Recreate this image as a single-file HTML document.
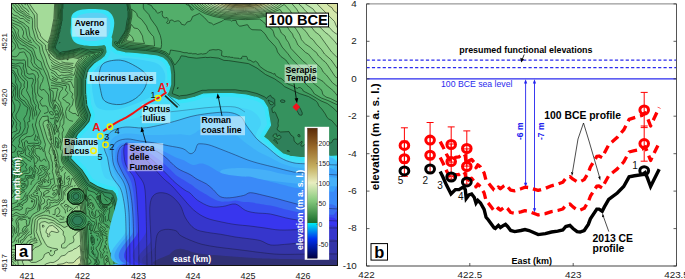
<!DOCTYPE html>
<html><head><meta charset="utf-8"><style>
html,body{margin:0;padding:0;background:#fff;}
body{width:685px;height:279px;overflow:hidden;}
svg{display:block;font-family:"Liberation Sans", sans-serif;}
</style></head><body>
<svg xmlns="http://www.w3.org/2000/svg" width="685" height="279" viewBox="0 0 685 279">
<clipPath id="mc"><rect x="11" y="3" width="327" height="263"/></clipPath>
<g clip-path="url(#mc)">
<rect x="11" y="3" width="327" height="263" fill="#4b9f62"/>
<rect x="11" y="3" width="327" height="263" fill="#2f805a"/>
<path d="M119.5,266.0 11.0,266.0 11.0,3.0 63.5,3.0 63.0,3.5 62.8,8.5 62.3,9.5 62.1,21.0 61.1,26.0 60.6,26.5 60.6,29.0 58.8,34.5 58.8,36.5 55.4,46.5 55.5,48.4 60.0,52.7 63.0,51.6 67.0,51.3 80.5,48.1 89.5,50.1 99.0,49.1 102.9,49.5 103.0,51.5 102.0,53.8 99.5,56.2 92.7,60.5 86.0,67.8 85.0,70.5 82.9,79.0 82.9,94.5 84.0,106.0 87.4,114.5 87.4,116.5 86.2,120.5 75.0,132.8 71.4,140.0 70.9,141.5 70.9,147.0 67.9,158.5 69.0,160.8 79.7,171.5 86.0,181.7 88.3,184.5 97.5,189.6 105.0,192.5 110.5,193.3 112.7,195.0 117.4,210.0 117.4,225.0 119.9,257.5 119.9,266.0 119.5,266.0Z M313.0,147.0 310.8,146.5 309.0,143.6 306.0,143.0 303.2,146.0 301.5,146.2 300.7,145.0 302.1,142.5 302.0,141.2 298.0,144.3 297.0,144.0 294.2,141.0 293.7,137.0 291.0,135.1 289.0,131.6 280.5,132.0 277.5,130.1 277.2,128.5 278.3,126.0 278.0,123.5 278.5,119.9 275.4,112.5 274.5,111.9 273.0,112.9 272.5,112.4 271.9,109.0 272.0,108.0 274.9,105.5 274.7,99.5 274.0,98.4 271.8,97.5 270.5,95.2 267.5,97.0 266.5,98.5 264.5,96.8 257.0,93.5 246.5,90.9 235.5,89.8 208.0,89.9 202.0,90.3 193.2,93.5 186.5,95.2 179.5,96.2 172.5,93.7 172.3,93.0 174.6,85.0 174.6,73.5 173.5,66.0 171.0,60.8 168.3,57.5 164.5,54.4 158.0,52.0 145.5,50.4 125.0,48.9 118.5,47.2 115.3,44.5 114.6,42.0 115.5,41.6 118.0,42.6 118.5,42.2 125.7,29.5 128.1,17.0 128.1,11.5 127.6,10.5 127.6,7.5 126.6,3.0 338.0,3.0 338.0,139.7 336.0,139.0 334.0,139.2 332.9,140.0 331.7,142.5 330.5,142.9 326.0,141.8 320.5,143.1 318.0,142.0 317.4,144.5 313.0,147.0Z M177.6,89.0 178.0,87.3 177.6,89.0Z M272.5,104.6 271.0,104.9 270.0,104.1 268.0,100.0 273.2,102.5 273.8,103.5 272.5,104.6Z M283.5,102.5 285.0,101.8 284.8,100.5 282.0,99.7 280.5,100.5 281.0,102.1 283.5,102.5Z M302.0,115.0 302.3,113.0 300.3,108.5 298.5,106.0 297.5,105.7 296.8,106.5 296.8,110.5 299.4,115.0 302.0,115.0Z M279.5,139.2 277.5,139.1 274.0,137.5 273.1,136.5 273.2,135.0 274.5,134.1 276.5,133.8 277.0,136.7 279.0,135.2 280.0,135.4 280.9,137.5 279.5,139.2Z M300.1,136.5 299.5,134.6 298.2,134.5 297.8,135.5 298.2,136.5 300.1,136.5Z M277.0,143.5 273.6,140.0 275.5,139.9 277.2,142.5 277.4,143.5 277.0,143.5Z M289.0,151.5 287.1,151.0 287.2,150.5 288.6,150.5 289.5,151.5 289.0,151.5Z M308.0,153.5 306.9,153.5 307.5,152.9 308.0,153.5Z M77.7,199.0 79.1,197.0 78.5,194.6 76.5,193.5 74.0,194.2 72.9,196.0 73.5,198.4 75.5,199.5 77.7,199.0Z M77.5,225.0 81.0,223.7 82.2,222.0 82.5,220.5 82.2,219.0 81.0,217.3 77.5,216.0 74.0,217.3 72.8,219.0 72.5,220.5 72.8,222.0 74.0,223.7 77.5,225.0Z" fill="#35925e" fill-rule="evenodd"/>
<path d="M118.5,266.0 11.0,266.0 11.0,3.0 62.1,3.0 61.9,8.0 61.4,9.5 61.2,20.5 57.9,36.0 54.5,46.0 54.8,49.0 59.0,53.3 60.0,53.6 78.5,49.5 80.5,49.4 90.0,51.5 101.5,50.5 101.0,52.8 99.0,54.8 92.0,59.3 88.5,62.8 84.9,67.0 83.7,70.0 81.6,79.0 81.6,95.0 82.6,106.0 86.1,115.0 86.1,116.0 85.0,119.7 74.0,131.9 70.0,139.8 69.5,146.5 66.6,158.5 67.8,161.5 78.5,172.3 87.0,185.2 97.0,190.9 102.7,193.0 104.5,196.2 109.5,198.5 111.0,200.7 111.6,200.5 112.0,197.2 114.9,207.0 114.4,208.0 115.0,211.0 114.3,216.5 116.0,220.0 116.1,225.5 118.0,247.5 118.5,266.0Z M338.0,127.7 331.7,120.5 328.8,119.0 327.1,117.5 321.8,109.0 318.9,106.0 317.5,102.6 315.4,100.5 308.5,96.5 299.5,93.6 284.5,86.6 281.5,83.7 274.5,78.8 265.5,74.5 257.0,68.1 248.5,63.6 228.5,60.6 224.0,60.4 218.5,58.1 205.5,57.3 196.5,58.2 188.0,57.2 186.0,56.4 181.5,55.8 179.7,59.0 175.0,64.9 171.0,58.4 169.0,56.3 165.0,53.1 159.0,50.9 145.5,49.1 129.0,48.0 119.0,45.8 116.7,44.0 116.5,43.2 118.0,43.5 119.0,43.0 126.5,30.0 129.1,16.5 129.1,11.5 127.6,3.0 338.0,3.0 338.0,127.7Z M77.3,201.0 79.3,200.0 80.5,198.5 80.9,197.0 80.7,195.0 79.8,193.5 78.0,192.2 74.5,192.1 72.7,193.0 71.5,194.5 71.1,196.0 71.3,198.0 73.5,200.5 75.5,201.1 77.3,201.0Z M79.1,226.5 81.5,225.5 83.5,223.5 84.3,221.0 83.9,218.5 82.7,216.5 80.5,215.0 78.0,214.3 75.0,214.8 72.8,216.0 71.3,218.0 70.7,220.0 71.1,222.5 72.3,224.5 74.0,225.8 76.5,226.6 79.1,226.5Z" fill="#3f9c60" fill-rule="evenodd"/>
<path d="M117.0,266.0 11.0,266.0 11.0,172.7 13.0,171.8 13.8,170.5 13.0,168.5 11.0,167.2 11.0,130.5 13.7,123.0 13.2,121.5 11.0,119.2 11.0,110.8 11.6,109.0 11.0,107.4 11.0,3.0 61.1,3.0 60.4,20.0 57.1,36.0 53.6,46.0 54.0,49.5 58.5,54.0 60.0,54.5 78.5,50.4 89.5,52.8 99.8,52.0 98.0,53.9 91.5,58.0 87.5,61.9 83.7,66.5 82.5,69.5 80.2,79.0 80.2,95.0 81.4,106.5 84.8,115.5 83.8,119.0 73.0,131.0 68.9,139.0 68.2,141.5 68.2,146.5 65.2,158.5 65.7,160.5 66.9,162.5 77.4,173.0 85.0,185.0 87.2,187.0 88.0,190.4 94.0,192.3 95.6,193.5 96.5,195.0 98.0,192.7 101.0,193.8 100.4,195.5 101.1,201.5 101.5,202.5 104.0,204.5 108.0,204.6 110.7,202.5 111.8,201.0 113.0,205.5 109.0,208.5 109.6,211.5 108.6,215.0 108.6,219.0 109.2,220.5 111.4,222.5 115.1,229.0 116.7,247.5 117.0,266.0Z M338.0,112.9 333.5,108.2 327.3,103.5 321.0,100.9 311.0,94.9 303.2,91.0 302.5,89.3 300.5,87.7 298.5,87.5 297.5,88.5 292.0,85.4 286.5,83.1 281.0,78.3 279.5,78.0 275.5,75.5 275.0,73.6 273.0,74.1 272.0,73.1 267.5,71.5 264.0,69.5 259.5,66.1 258.0,63.1 256.0,61.4 255.5,61.1 254.0,62.1 253.0,62.1 250.0,60.1 247.6,59.5 246.5,56.4 242.5,56.3 241.7,57.0 241.8,58.5 239.5,58.8 239.0,58.3 233.5,57.9 233.0,57.4 230.5,57.3 230.0,56.9 224.5,56.7 221.5,55.5 221.9,51.5 221.5,50.6 218.5,49.5 210.0,50.2 209.0,50.5 206.3,53.5 197.5,54.4 196.0,53.7 192.5,53.8 187.0,52.7 184.0,52.7 180.0,51.5 170.5,50.0 169.5,54.5 169.0,54.6 165.5,51.9 158.5,49.4 145.5,47.7 129.0,46.7 120.0,44.8 119.2,44.0 125.5,34.0 127.4,30.0 130.0,16.0 130.0,11.5 128.7,3.0 338.0,3.0 338.0,112.9Z M78.1,202.5 80.5,201.2 82.0,199.4 82.7,197.0 82.4,194.5 81.0,192.3 79.0,190.8 76.5,190.2 73.5,190.6 71.3,192.0 69.8,194.0 69.3,196.0 69.6,198.5 71.0,200.7 73.0,202.2 75.5,202.8 78.1,202.5Z M80.0,228.0 83.1,226.5 85.2,224.0 86.1,221.0 85.7,218.0 84.0,215.3 81.0,213.3 77.5,212.7 74.0,213.3 71.3,215.0 69.5,217.5 68.9,220.0 69.3,223.0 70.8,225.5 73.5,227.4 76.5,228.3 80.0,228.0Z M93.3,245.0 94.3,243.5 94.3,239.0 93.0,236.4 91.5,235.1 90.7,238.0 91.0,241.0 92.5,245.3 93.3,245.0Z M93.9,254.5 92.5,250.2 91.6,252.0 93.2,254.5 93.9,254.5Z" fill="#48a665" fill-rule="evenodd"/>
<path d="M114.0,266.0 98.4,266.0 99.4,262.0 97.7,258.5 98.3,253.0 96.0,248.5 98.2,245.5 101.2,239.5 99.1,236.5 98.6,233.5 94.5,232.6 92.7,231.0 93.5,226.0 95.0,224.1 95.0,222.8 94.0,221.7 91.7,221.0 88.0,216.2 87.5,215.8 87.0,216.5 85.5,214.5 83.0,212.5 80.5,211.5 77.5,211.5 73.0,212.0 69.0,215.0 67.5,218.0 67.5,223.0 69.0,226.0 70.5,227.5 74.5,229.5 80.5,229.5 82.0,229.0 84.5,227.5 87.0,224.5 87.4,225.0 88.7,253.5 89.0,254.8 93.9,259.0 95.1,261.0 95.2,262.5 93.4,266.0 11.0,266.0 11.0,186.3 12.5,184.8 15.5,184.6 17.5,183.0 16.7,178.5 18.5,173.9 21.5,173.6 23.5,171.1 26.5,171.0 27.1,170.5 27.0,169.5 25.4,167.0 27.0,164.5 25.0,163.0 23.0,160.4 19.5,160.0 17.1,152.0 18.0,150.9 22.0,151.7 23.0,150.5 22.9,149.5 21.5,147.9 18.5,147.0 18.5,145.6 19.7,143.5 19.1,140.5 20.0,138.0 21.2,136.5 24.0,134.3 26.5,133.6 27.0,133.0 28.4,126.5 27.6,122.5 28.0,121.9 30.0,121.1 29.2,119.0 30.4,115.0 30.3,111.0 29.3,107.0 26.4,104.0 25.0,101.4 20.8,99.0 19.6,97.0 19.3,90.5 21.1,86.5 21.0,83.5 18.6,80.5 17.9,78.0 14.0,71.1 13.0,70.4 11.0,70.0 11.0,3.0 60.2,3.0 59.5,19.5 56.2,35.5 52.6,46.0 52.6,48.5 53.2,50.0 57.7,54.5 59.5,55.4 78.0,51.7 89.0,54.1 93.0,53.6 95.4,54.0 90.5,57.1 86.5,61.0 82.7,65.5 81.3,69.0 78.9,79.0 78.9,95.0 80.1,107.0 83.4,115.5 82.5,118.5 71.7,130.5 67.7,138.5 66.9,141.0 66.9,146.0 64.1,156.0 63.9,158.5 65.5,162.9 76.0,173.5 83.7,185.5 86.1,188.0 86.5,197.0 87.0,197.5 89.5,195.2 91.4,195.5 95.0,199.5 99.7,208.0 102.5,210.0 103.6,211.5 103.8,213.0 102.0,216.0 101.7,221.0 104.3,224.0 107.5,225.5 110.1,229.0 110.8,231.5 110.7,234.5 112.6,237.5 111.9,240.0 109.3,243.0 109.0,248.5 111.0,256.1 113.7,260.5 114.2,263.5 114.0,266.0Z M338.0,105.1 321.5,98.1 314.5,94.0 310.9,88.5 307.0,85.3 299.5,76.4 293.5,72.1 289.5,65.0 285.8,60.0 280.9,56.5 277.5,52.0 276.7,49.0 275.3,46.5 268.2,39.0 265.0,33.8 261.0,30.0 252.0,29.7 249.5,28.0 248.0,25.1 247.0,24.7 239.4,26.0 237.1,24.0 236.1,20.5 232.8,20.5 231.5,21.1 230.3,20.0 224.0,19.5 222.5,21.0 213.5,24.8 211.5,23.2 208.8,22.5 204.5,17.7 199.5,13.4 192.6,16.5 191.0,20.5 187.0,22.0 184.5,25.0 181.5,24.3 180.4,22.0 179.0,20.9 174.5,21.6 172.0,19.9 169.8,20.5 169.5,23.0 167.5,23.5 166.7,22.5 168.1,20.5 168.0,18.8 167.0,17.4 165.0,18.1 163.0,16.9 162.2,14.5 162.5,11.5 161.5,11.3 159.0,12.9 157.4,13.0 156.3,12.0 155.6,10.0 153.2,8.5 151.5,5.6 146.5,3.5 144.5,3.3 143.3,4.5 143.3,7.5 144.1,9.5 148.8,14.5 150.9,19.0 156.7,27.0 160.3,35.5 161.4,40.5 161.6,44.5 161.0,48.5 146.0,46.4 129.5,45.4 121.0,43.6 126.5,34.0 128.2,30.0 130.9,16.0 131.0,11.5 129.7,3.0 186.4,3.0 186.2,4.5 188.0,5.1 190.4,7.5 191.0,9.6 192.0,10.2 193.7,9.5 193.6,9.0 187.2,3.0 338.0,3.0 338.0,105.1Z M78.5,204.0 81.5,202.5 83.0,201.0 84.0,199.0 84.0,194.0 83.0,192.0 80.0,189.5 76.0,189.0 72.0,189.5 69.0,192.0 68.0,194.0 68.0,199.0 69.0,201.0 72.0,203.5 73.5,204.0 78.5,204.0Z M107.0,206.1 103.5,205.6 100.5,203.0 99.1,199.0 99.5,195.0 100.4,195.0 100.1,200.5 101.1,202.5 103.0,204.4 104.0,204.9 108.0,204.9 110.9,203.0 111.0,203.7 110.0,204.7 107.0,206.1Z" fill="#53ae6a" fill-rule="evenodd"/>
<path d="M88.5,266.0 11.0,266.0 11.0,195.6 14.5,190.0 16.0,190.3 18.5,193.0 25.0,189.6 26.5,188.0 28.0,185.0 27.7,179.5 28.1,178.5 30.0,177.8 33.0,178.5 34.5,177.5 35.9,170.5 34.1,168.0 34.6,164.0 34.1,158.5 31.5,154.5 32.4,151.5 31.3,149.0 34.0,145.9 39.5,145.4 40.7,143.5 41.0,142.0 39.3,138.5 35.4,125.0 37.0,118.0 40.6,111.0 38.4,108.0 38.6,105.0 35.9,98.5 35.9,95.5 34.8,92.0 34.7,85.0 35.7,81.5 35.1,75.5 33.0,73.6 29.5,74.2 27.0,73.1 26.5,69.5 25.5,67.0 25.5,61.5 24.5,59.8 21.0,60.2 13.0,59.8 11.0,58.6 11.0,47.7 11.9,46.5 11.0,44.2 11.0,3.0 59.2,3.0 58.6,19.5 55.4,35.5 51.8,45.5 51.7,48.5 52.2,50.0 57.0,55.0 59.5,56.3 76.5,52.8 90.3,55.5 85.5,60.1 81.2,65.5 77.7,78.0 77.5,95.0 78.6,106.0 81.9,115.5 81.5,117.5 70.8,129.5 66.4,138.0 65.6,141.0 65.5,146.0 62.5,158.0 63.0,161.0 64.3,163.5 75.1,174.5 82.8,186.5 85.0,189.0 85.1,203.5 86.2,214.5 83.0,212.4 80.5,211.4 74.5,211.4 73.0,211.9 70.5,213.4 67.9,216.5 67.4,218.0 67.4,223.0 68.9,226.0 70.5,227.6 74.5,229.6 80.5,229.6 86.3,226.5 86.7,240.5 87.9,255.0 88.5,258.3 90.2,259.5 91.2,262.0 90.5,263.3 89.0,263.1 88.5,266.0Z M338.0,102.3 330.5,98.5 326.0,97.0 322.8,94.5 322.0,91.0 320.6,89.0 312.5,82.5 307.3,76.5 305.0,72.0 291.5,58.7 288.0,53.8 282.1,47.0 278.5,40.3 274.5,36.0 272.2,29.5 267.1,26.0 263.6,22.0 259.5,19.0 245.5,19.6 238.5,19.4 222.0,18.0 214.0,16.5 205.5,13.8 200.1,11.0 194.8,7.5 190.5,3.0 338.0,3.0 338.0,102.3Z M154.0,46.1 134.5,44.1 129.5,44.0 122.4,42.5 127.2,34.5 129.0,30.5 131.8,17.0 131.5,9.1 136.0,12.5 137.5,16.3 141.7,19.5 146.5,26.0 147.8,29.5 151.0,34.1 153.5,36.5 154.2,40.5 154.5,46.0 154.0,46.1Z M78.6,204.0 81.5,202.6 83.2,201.0 84.4,199.0 84.4,194.0 83.2,192.0 80.0,189.4 75.0,188.9 72.0,189.4 68.9,192.0 67.9,194.0 67.9,199.0 68.9,201.0 72.0,203.6 73.5,204.1 78.6,204.0Z M92.5,209.6 90.4,208.0 88.8,205.5 89.3,203.5 91.0,202.2 93.0,203.6 94.3,207.5 94.1,208.5 92.5,209.6Z M109.5,266.0 104.5,266.0 103.8,259.0 106.5,255.0 108.2,258.0 108.2,260.0 109.8,264.0 109.5,266.0Z" fill="#5fb670" fill-rule="evenodd"/>
<path d="M87.5,266.0 11.0,266.0 11.0,240.1 11.8,239.0 11.0,237.3 11.0,232.4 11.9,230.0 11.0,227.9 11.0,211.3 13.5,210.0 17.0,209.5 19.5,210.3 22.2,209.0 22.6,207.5 19.2,205.5 19.2,204.5 20.5,204.1 22.3,205.0 22.5,205.7 23.3,203.5 26.5,201.8 27.9,199.0 27.3,196.5 27.7,195.0 37.5,182.0 40.3,181.0 40.8,178.0 44.1,176.5 46.5,173.0 47.4,170.5 49.3,168.5 48.8,162.0 47.4,160.0 45.6,155.5 44.1,150.0 45.5,144.5 39.5,125.0 39.4,121.5 41.1,118.0 42.5,116.6 48.0,116.0 48.5,121.4 50.5,122.5 52.0,125.0 54.5,134.3 55.0,134.6 55.3,133.5 54.1,128.5 56.0,122.5 56.0,119.9 56.8,120.0 57.5,122.3 60.6,115.0 57.5,106.5 55.5,104.4 55.0,108.8 52.6,101.0 53.4,96.5 53.1,91.5 50.0,89.4 46.8,76.5 42.1,66.0 41.0,61.9 37.0,59.2 35.2,55.0 34.4,51.5 32.5,48.0 29.0,46.5 17.6,38.5 14.7,30.0 11.0,25.7 11.0,3.0 58.3,3.0 57.6,19.5 54.5,35.5 50.9,45.5 50.8,48.5 51.4,50.5 56.8,56.0 59.5,57.2 76.0,54.0 87.2,56.5 79.9,65.0 76.2,78.5 76.2,95.0 77.2,106.0 80.5,115.5 80.4,116.5 75.5,122.7 69.9,128.5 65.2,137.5 64.3,140.5 63.7,148.0 61.2,158.0 61.8,161.5 63.4,164.5 74.2,175.5 81.5,187.0 83.6,189.5 83.5,192.5 83.5,192.0 80.0,189.2 78.5,188.8 73.5,188.8 70.5,190.3 68.8,192.0 67.8,194.0 67.8,199.0 68.8,201.0 72.0,203.7 73.5,204.2 78.5,204.2 81.5,202.8 83.8,200.5 83.8,204.0 85.2,213.5 80.5,211.3 74.5,211.3 72.0,212.3 69.3,214.5 67.8,216.5 67.3,218.0 67.3,223.0 68.8,226.0 70.5,227.7 74.5,229.7 80.5,229.7 85.2,227.5 85.9,244.0 87.8,260.5 87.5,266.0Z M338.0,96.5 333.6,91.0 325.7,84.5 323.1,81.5 316.2,77.5 312.3,72.5 310.7,69.0 306.7,64.0 303.0,61.2 291.0,48.5 288.5,42.5 286.0,39.0 285.0,36.0 281.3,33.0 279.7,29.0 276.5,25.2 272.0,21.9 267.3,16.5 266.0,16.3 255.5,18.0 245.0,18.5 232.0,17.8 220.0,16.5 213.2,15.0 205.0,12.1 197.1,7.0 193.6,3.0 338.0,3.0 338.0,96.5Z M144.5,43.5 130.0,42.7 124.2,41.5 129.7,31.5 131.0,24.8 131.5,24.6 134.0,28.0 137.5,28.6 139.5,30.5 142.5,36.0 143.1,40.0 144.5,43.5Z M57.8,147.5 58.6,145.5 58.8,140.5 58.0,139.1 55.5,137.1 55.5,145.0 56.7,147.5 57.8,147.5Z M32.7,202.0 32.8,201.0 31.5,200.5 31.4,202.0 32.7,202.0Z" fill="#6cbe77" fill-rule="evenodd"/>
<path d="M79.0,116.1 77.1,115.5 75.5,113.4 73.0,113.6 68.8,111.0 70.1,107.5 72.4,105.0 73.4,99.5 71.8,97.0 72.9,94.0 69.9,90.5 68.7,84.0 65.5,83.9 59.0,82.3 56.0,82.2 50.0,79.4 47.9,72.0 45.0,65.9 40.2,52.5 39.3,46.5 34.5,42.1 32.0,38.1 30.0,36.5 28.5,27.0 23.8,23.0 19.0,20.8 16.5,18.4 13.5,17.8 11.0,16.5 11.0,3.0 57.4,3.0 56.8,19.0 53.7,35.0 49.9,45.5 49.9,48.5 50.4,50.5 56.0,56.4 59.0,58.0 61.0,58.0 75.0,55.2 84.3,57.5 80.0,62.5 78.4,65.0 74.9,78.5 74.8,94.5 75.9,106.5 79.0,116.1Z M338.0,87.0 332.5,82.8 326.5,75.1 323.2,72.0 321.1,68.0 314.0,61.0 308.5,54.1 305.5,52.4 297.9,45.0 295.5,39.5 293.5,36.9 292.5,34.0 289.6,30.5 287.1,26.5 282.6,23.5 277.2,19.0 272.4,14.0 256.0,16.8 247.0,17.3 239.0,17.1 222.0,15.7 214.0,13.9 206.1,11.0 201.0,7.7 196.1,3.0 338.0,3.0 338.0,87.0Z M134.0,41.0 130.0,41.4 125.8,40.5 129.5,34.3 132.2,37.0 134.0,41.0Z M86.5,266.0 11.0,266.0 11.0,242.6 14.5,241.2 15.5,238.1 17.6,235.5 18.9,229.0 18.7,224.5 17.8,221.5 18.0,220.0 19.0,219.4 21.5,220.1 24.0,219.3 25.5,219.5 26.5,220.5 26.3,222.5 27.0,226.0 28.5,225.5 29.1,224.5 30.4,218.0 32.8,214.5 39.6,210.5 39.5,205.0 41.4,201.0 40.5,197.5 41.7,194.0 41.4,192.5 39.5,190.5 39.5,188.5 40.5,187.8 50.5,189.1 51.8,186.0 54.7,183.5 53.5,175.4 52.3,171.5 52.8,168.5 52.5,163.0 51.1,159.0 50.7,155.5 49.0,152.5 49.5,149.5 51.0,145.5 47.3,139.0 43.1,125.0 43.2,123.0 44.0,121.5 47.0,120.1 48.0,119.9 48.4,123.0 50.2,125.0 51.6,129.5 53.4,137.5 53.9,145.5 56.6,151.0 57.9,156.0 57.9,160.0 58.9,163.5 59.3,168.5 60.5,169.9 61.5,169.2 63.0,166.5 64.5,167.7 73.0,176.2 82.3,190.0 82.0,190.5 78.5,188.7 73.5,188.7 70.5,190.2 68.7,192.0 67.7,194.0 67.7,199.0 68.7,201.0 72.0,203.8 73.5,204.3 78.5,204.3 82.5,202.5 82.8,208.0 83.9,212.5 80.5,211.2 74.5,211.2 72.0,212.2 68.7,215.0 67.7,216.5 67.2,218.0 67.2,223.0 68.8,226.0 70.5,227.7 74.5,229.7 80.5,229.7 84.0,228.1 84.6,231.5 84.9,243.5 87.0,261.0 86.5,266.0Z M54.6,195.0 55.6,193.5 54.5,192.5 53.1,193.0 52.6,194.5 53.5,195.2 54.6,195.0Z M37.5,193.7 36.3,193.5 38.0,192.9 37.5,193.7Z M23.6,231.5 26.7,227.0 26.5,226.2 24.5,226.5 23.0,228.2 22.0,231.0 22.5,231.6 23.6,231.5Z" fill="#7ac67f" fill-rule="evenodd"/>
<path d="M60.5,75.5 58.5,75.7 55.5,72.0 50.0,69.3 43.0,51.0 41.8,45.0 36.8,41.0 35.4,38.5 32.4,28.0 32.5,20.5 32.0,17.9 27.0,15.4 23.5,12.0 20.4,10.5 18.1,6.5 14.1,3.0 56.5,3.0 55.8,19.0 52.7,35.0 49.0,45.5 49.5,50.6 50.7,52.5 55.4,57.0 59.0,58.8 61.5,58.9 74.0,56.4 82.0,58.0 77.2,64.5 74.0,75.3 69.5,74.7 64.5,75.4 61.5,75.0 60.5,75.5Z M338.0,78.7 335.1,76.5 327.3,64.5 325.0,61.7 322.5,60.0 321.0,58.0 318.5,56.0 316.4,52.5 310.5,47.4 305.5,44.1 302.9,41.5 301.4,39.5 299.8,35.0 296.4,29.5 290.0,21.0 282.7,13.5 280.0,9.4 272.5,12.4 255.5,15.7 243.5,16.2 232.0,15.5 221.5,14.4 210.0,11.1 203.0,7.2 198.8,3.0 338.0,3.0 338.0,78.7Z M52.0,140.2 51.4,140.0 50.6,138.0 49.6,132.5 47.0,126.0 47.2,124.5 48.0,124.1 48.9,126.0 48.8,127.5 49.3,128.0 49.7,131.5 50.8,134.0 52.0,140.2Z M54.0,151.4 54.0,150.0 54.0,151.4Z M56.5,163.8 54.7,161.0 54.1,152.0 54.5,151.3 54.8,153.5 55.5,154.0 55.5,156.0 56.1,156.5 55.9,158.5 56.8,161.5 56.5,163.8Z M59.5,182.6 58.4,177.5 57.3,176.5 55.8,172.5 55.7,170.5 56.7,167.5 57.0,163.9 57.1,166.0 59.4,173.5 58.8,176.5 59.2,177.0 59.2,179.5 59.7,180.0 59.5,182.6Z M85.5,266.0 11.0,266.0 11.0,246.4 14.0,245.6 17.5,245.9 19.8,245.0 21.6,243.5 28.0,235.5 31.5,234.0 31.3,227.0 32.5,220.0 33.1,218.5 35.0,216.3 45.0,211.6 47.1,208.5 50.1,208.0 52.0,206.7 58.5,204.5 60.0,201.5 63.0,199.5 63.3,191.5 65.1,190.0 66.2,188.0 68.9,186.5 70.3,185.0 71.8,179.0 72.5,177.9 79.7,189.0 78.5,188.6 73.5,188.6 70.5,190.1 68.6,192.0 67.6,194.0 67.6,199.0 68.6,201.0 70.5,202.9 73.5,204.4 78.5,204.4 81.1,203.0 81.5,208.0 82.4,211.5 74.5,211.1 70.5,213.1 67.6,216.5 67.1,218.0 67.1,223.0 68.7,226.0 73.0,229.3 74.5,229.8 80.5,229.8 83.0,229.0 84.5,250.5 86.0,261.0 85.9,266.0 85.5,266.0Z M60.0,188.3 59.6,186.0 60.0,184.4 60.0,188.3Z" fill="#88cd87" fill-rule="evenodd"/>
<path d="M74.5,67.7 60.0,65.1 55.5,63.2 50.0,59.2 46.0,49.8 45.5,45.0 38.3,38.5 34.9,27.5 34.3,15.0 30.0,9.0 26.6,3.0 55.6,3.0 54.9,18.5 51.7,35.0 48.2,45.0 48.4,50.0 49.6,52.5 53.0,56.0 55.5,58.2 58.5,59.6 61.5,59.8 73.0,57.5 79.5,58.9 76.7,62.5 74.5,67.7Z M338.0,69.6 331.2,60.0 324.5,54.0 321.5,49.5 316.2,44.0 313.0,39.7 310.0,37.5 306.0,31.5 301.7,27.5 299.4,23.5 290.0,10.5 284.5,4.7 284.0,4.5 273.7,10.5 265.0,13.0 254.5,14.6 241.5,14.9 226.0,13.8 216.5,11.8 207.5,8.3 203.5,5.5 201.1,3.0 338.0,3.0 338.0,69.6Z M71.0,213.0 71.1,212.0 74.0,208.9 76.5,206.8 80.0,204.8 80.9,211.0 74.5,211.0 72.0,212.0 71.0,213.0Z M85.0,266.0 11.0,266.0 11.0,249.4 26.0,249.7 29.1,246.5 30.0,242.5 33.0,240.9 36.9,241.0 34.6,236.5 33.9,231.5 35.1,220.0 37.0,217.6 39.0,216.5 43.5,215.3 46.5,215.4 51.5,216.9 56.0,219.3 60.0,222.6 64.5,222.2 67.0,221.0 67.0,223.0 68.6,226.0 73.0,229.4 74.5,229.9 82.0,229.5 85.0,266.0Z" fill="#96d48f" fill-rule="evenodd"/>
<path d="M48.0,42.7 43.6,39.5 40.6,36.0 37.2,27.0 37.1,14.0 34.4,11.0 29.7,4.0 29.6,3.0 54.7,3.0 53.9,18.5 50.8,34.5 48.0,42.7Z M254.0,13.5 237.5,13.6 221.5,11.7 210.4,8.0 207.0,6.0 203.6,3.0 282.7,3.0 278.0,6.5 271.5,9.7 263.7,12.0 254.0,13.5Z M338.0,58.3 331.5,51.9 319.4,35.0 314.8,31.5 310.6,26.0 304.0,19.5 298.3,12.0 296.6,9.0 291.3,3.0 338.0,3.0 338.0,58.3Z M67.0,60.0 66.9,59.5 68.4,59.5 67.0,60.0Z M84.0,266.0 18.4,266.0 17.8,261.5 18.5,258.3 18.0,257.8 14.5,257.2 13.6,256.0 15.5,254.7 19.0,255.1 24.0,252.8 28.5,252.8 32.5,250.5 35.0,247.6 38.2,246.5 41.5,244.2 36.3,232.0 37.2,222.0 38.0,220.0 39.8,218.5 45.5,218.3 54.5,221.0 57.0,223.5 60.5,225.0 64.0,227.4 68.5,225.5 70.5,228.0 73.0,229.4 74.5,229.9 81.0,229.9 84.0,266.0Z" fill="#a4db99" fill-rule="evenodd"/>
<path d="M251.5,12.5 237.0,12.5 222.0,10.5 212.0,7.0 206.4,3.0 279.5,3.0 275.0,6.3 268.5,9.3 261.5,11.2 251.5,12.5Z M338.0,45.7 328.2,34.5 325.3,32.5 318.5,25.7 314.6,20.5 311.0,17.7 306.9,12.0 304.1,9.5 302.4,7.0 299.8,5.0 298.5,3.0 338.0,3.0 338.0,45.7Z M83.0,266.0 23.0,266.0 23.8,265.0 22.3,261.5 23.0,260.2 26.5,258.0 31.5,262.5 36.5,262.2 42.0,259.3 43.7,257.0 44.4,254.5 47.0,252.9 49.0,252.4 50.0,255.1 51.0,255.7 52.5,255.7 54.5,253.5 54.6,251.0 58.0,249.5 57.0,248.8 52.5,248.2 47.5,246.5 41.6,236.5 40.1,230.5 39.7,224.0 41.5,222.2 45.0,221.5 48.5,223.2 52.0,222.6 53.5,223.0 55.5,225.0 59.0,227.1 63.1,231.0 63.2,234.5 64.8,237.0 65.1,240.0 64.5,242.7 62.5,243.7 61.5,244.9 61.5,247.5 62.5,248.0 65.5,248.0 69.0,244.3 73.5,242.2 74.0,239.8 73.1,236.5 75.6,234.5 77.0,232.3 80.0,230.8 80.6,242.5 83.0,266.0Z M50.5,251.6 50.0,251.0 51.0,250.2 51.5,251.0 50.5,251.6Z" fill="#b4e2a6" fill-rule="evenodd"/>
<path d="M249.5,11.5 236.0,11.3 223.0,9.4 213.6,6.0 209.0,3.0 276.8,3.0 271.2,6.5 265.5,8.8 260.0,10.2 249.5,11.5Z M338.0,34.9 333.5,32.0 327.0,25.0 322.5,19.2 319.6,17.0 318.2,14.5 315.5,12.3 313.1,9.0 304.7,3.0 338.0,3.0 338.0,34.9Z M43.5,227.2 42.5,227.1 42.5,225.0 43.9,225.5 43.5,227.2Z M49.0,236.7 48.0,236.9 47.5,236.5 48.1,234.0 45.9,232.5 46.5,229.5 49.3,226.0 52.5,225.4 57.0,228.9 59.0,231.7 57.0,232.6 52.0,231.3 51.0,231.4 49.4,233.5 49.9,235.5 49.0,236.7Z M82.0,266.0 43.6,266.0 46.0,263.9 50.5,262.4 53.0,262.6 54.5,262.0 58.5,259.5 61.0,256.1 65.0,255.2 68.5,251.8 72.4,250.5 80.0,245.3 82.0,266.0Z" fill="#c6e8b0" fill-rule="evenodd"/>
<path d="M253.5,10.0 241.0,10.4 228.5,9.3 219.8,7.0 211.9,3.0 273.8,3.0 270.0,5.3 263.0,8.2 253.5,10.0Z M338.0,28.7 336.5,26.5 334.5,21.5 316.2,3.0 338.0,3.0 338.0,28.7Z M81.0,266.0 55.7,266.0 58.0,264.4 63.0,263.8 66.5,262.2 68.5,262.9 73.0,262.8 80.0,256.3 81.0,266.0Z" fill="#d4e8ac" fill-rule="evenodd"/>
<path d="M250.5,9.0 240.0,9.3 229.0,8.2 221.5,6.0 215.6,3.0 270.7,3.0 261.0,7.4 250.5,9.0Z M338.0,14.0 333.5,10.5 332.0,7.7 329.1,6.0 326.1,3.0 338.0,3.0 338.0,14.0Z M80.0,266.0 77.0,266.0 80.0,263.7 80.0,266.0Z" fill="#d8e0a0" fill-rule="evenodd"/>
<path d="M249.0,8.0 239.5,8.2 230.0,7.2 224.5,5.6 218.9,3.0 267.5,3.0 260.0,6.3 249.0,8.0Z" fill="#ccc88a" fill-rule="evenodd"/>
<path d="M247.0,7.0 239.5,7.1 231.5,6.3 227.5,5.3 222.7,3.0 263.9,3.0 260.5,4.7 257.0,5.7 247.0,7.0Z" fill="#b8a86c" fill-rule="evenodd"/>
<path d="M250.0,4.5 236.5,4.7 229.0,3.0 257.1,3.0 250.0,4.5Z" fill="#9c8450" fill-rule="evenodd"/>
<g fill="none" stroke="#0c220f" stroke-width="0.65" stroke-opacity="0.9">
<path d="M63.5,3.0 63.0,3.5 62.8,8.5 62.3,9.5 62.1,21.0 61.7,21.5 61.1,26.0 60.6,26.5 60.6,29.0 60.1,29.5 59.9,31.5 58.8,34.5 58.8,36.5 55.4,46.5 55.5,48.4 60.0,52.7 63.0,51.6 67.0,51.3 80.5,48.1 89.5,50.1 92.0,49.6 97.5,49.6 99.0,49.1 102.5,49.1 102.9,49.5 103.0,51.5 102.0,53.8 99.5,56.2 92.7,60.5 86.0,67.8 85.0,70.5 82.9,79.0 82.9,94.5 83.9,101.5 84.0,106.0 87.4,114.5 87.4,116.5 86.2,120.5 81.2,126.5 75.0,132.8 71.4,140.0 70.9,141.5 70.9,147.0 67.9,158.5 69.0,160.8 79.7,171.5 86.0,181.7 88.3,184.5 97.5,189.6 105.0,192.5 110.5,193.3 112.7,195.0 117.4,210.0 117.4,225.0 118.4,233.5 118.4,238.5 118.9,240.0 118.9,245.5 119.4,247.0 119.9,266.0"/>
<path d="M338.0,139.7 336.0,139.0 334.0,139.2 332.9,140.0 331.7,142.5 330.5,142.9 328.5,142.7 326.0,141.8 320.5,143.1 318.0,142.0 317.4,144.5 313.0,147.0 310.8,146.5 309.0,143.6 306.0,143.0 303.2,146.0 301.5,146.2 300.7,145.0 302.1,142.5 302.0,141.2 298.0,144.3 297.0,144.0 294.2,141.0 293.7,137.0 291.0,135.1 289.0,131.6 280.5,132.0 277.4,130.0 277.2,128.5 278.3,126.0 278.0,123.5 278.5,119.9 275.4,112.5 274.5,111.9 273.0,112.9 272.5,112.4 271.9,109.0 272.0,108.0 273.6,107.0 274.9,105.5 274.7,99.5 274.0,98.4 271.8,97.5 270.5,95.2 267.5,97.0 266.5,98.5 264.5,96.8 257.0,93.5 246.5,90.9 242.5,90.9 235.5,89.8 208.0,89.9 206.0,90.3 202.0,90.3 193.2,93.5 186.5,95.2 180.5,95.7 179.5,96.2 172.5,93.7 172.3,93.0 174.6,85.0 174.6,73.5 173.5,66.0 171.0,60.8 168.3,57.5 164.5,54.4 158.0,52.0 145.5,50.4 125.0,48.9 118.5,47.2 115.3,44.5 114.6,42.0 115.5,41.6 118.0,42.6 118.5,42.2 119.7,39.5 124.1,33.0 125.7,29.5 127.1,20.5 128.1,17.0 128.1,11.5 127.6,10.5 127.6,7.5 126.6,3.0"/>
<path d="M177.6,89.0 178.0,87.3 177.4,88.5 177.6,89.0"/>
<path d="M272.5,104.6 271.0,104.9 270.0,104.1 268.0,100.0 273.2,102.5 273.8,103.5 272.5,104.6"/>
<path d="M283.5,102.5 285.0,101.8 284.8,100.5 282.0,99.7 280.5,100.5 280.5,101.5 281.0,102.1 283.5,102.5"/>
<path d="M302.0,115.0 302.3,113.0 300.3,108.5 298.5,106.0 297.5,105.7 296.8,106.5 296.8,110.5 299.4,115.0 301.0,115.3 302.0,115.0"/>
<path d="M279.5,139.2 277.5,139.1 274.0,137.5 273.1,136.5 273.2,135.0 274.5,134.1 276.5,133.8 277.0,136.7 279.0,135.2 280.0,135.4 280.8,136.5 280.9,137.5 279.5,139.2"/>
<path d="M300.1,136.5 299.5,134.6 298.2,134.5 297.8,135.5 298.2,136.5 299.5,136.8 300.1,136.5"/>
<path d="M277.0,143.5 273.6,140.0 274.5,139.6 275.5,139.9 277.2,142.5 277.4,143.5 277.0,143.5"/>
<path d="M289.0,151.5 287.1,151.0 287.2,150.5 288.6,150.5 289.5,151.5 289.0,151.5"/>
<path d="M308.0,153.5 306.9,153.5 307.5,152.9 308.0,153.5"/>
<path d="M77.7,199.0 79.1,197.0 78.5,194.6 76.5,193.5 74.0,194.2 72.9,196.0 73.5,198.4 75.5,199.5 77.7,199.0"/>
<path d="M77.5,225.0 79.5,224.6 81.0,223.7 82.2,222.0 82.5,220.5 82.2,219.0 81.0,217.3 79.5,216.4 77.5,216.0 75.5,216.4 74.0,217.3 72.8,219.0 72.5,220.5 72.8,222.0 74.0,223.7 75.5,224.6 77.5,225.0"/>
<path d="M62.1,3.0 61.9,8.0 61.4,9.5 61.2,20.5 57.9,36.0 54.5,46.0 54.8,49.0 59.0,53.3 60.0,53.6 78.5,49.5 80.5,49.4 90.0,51.5 101.5,50.5 101.6,51.5 101.0,52.8 99.0,54.8 92.0,59.3 88.5,62.8 84.9,67.0 83.7,70.0 81.6,79.0 81.6,95.0 82.6,106.0 86.1,115.0 86.1,116.0 85.0,119.7 79.8,126.0 74.0,131.9 70.0,139.8 69.6,141.5 69.5,146.5 66.6,158.5 67.8,161.5 78.5,172.3 87.0,185.2 97.0,190.9 102.7,193.0 104.5,196.2 109.5,198.5 111.0,200.7 111.6,200.5 112.0,197.2 114.9,207.0 114.4,208.0 115.0,211.0 114.3,216.5 116.0,220.0 116.1,225.5 118.0,247.5 118.5,266.0"/>
<path d="M338.0,127.7 331.7,120.5 328.8,119.0 327.1,117.5 325.3,114.0 321.8,109.0 318.9,106.0 317.5,102.6 315.4,100.5 308.5,96.5 299.5,93.6 284.5,86.6 281.5,83.7 274.5,78.8 265.5,74.5 257.0,68.1 248.5,63.6 228.5,60.6 224.0,60.4 218.5,58.1 210.5,57.3 207.0,57.6 205.5,57.3 196.5,58.2 188.0,57.2 186.0,56.4 181.5,55.8 181.0,56.0 179.7,59.0 175.0,64.9 174.5,64.8 171.0,58.4 169.0,56.3 165.0,53.1 159.0,50.9 145.5,49.1 129.0,48.0 119.0,45.8 116.7,44.0 116.5,43.2 118.0,43.5 119.0,43.0 126.5,30.0 129.1,16.5 129.1,11.5 127.6,3.0"/>
<path d="M77.3,201.0 79.3,200.0 80.5,198.5 80.9,197.0 80.7,195.0 79.8,193.5 78.0,192.2 74.5,192.1 72.7,193.0 71.5,194.5 71.1,196.0 71.3,198.0 72.2,199.5 73.5,200.5 75.5,201.1 77.3,201.0"/>
<path d="M79.1,226.5 81.5,225.5 83.5,223.5 84.3,221.0 83.9,218.5 82.7,216.5 80.5,215.0 78.0,214.3 75.0,214.8 72.8,216.0 71.3,218.0 70.7,220.0 71.1,222.5 72.3,224.5 74.0,225.8 76.5,226.6 79.1,226.5"/>
<path d="M61.1,3.0 61.0,8.0 60.5,9.5 60.4,20.0 57.1,36.0 53.6,46.0 53.5,48.5 54.0,49.5 58.5,54.0 60.0,54.5 78.5,50.4 89.5,52.8 99.8,52.0 98.0,53.9 91.5,58.0 87.5,61.9 83.7,66.5 82.5,69.5 80.2,79.0 80.2,95.0 81.4,106.5 84.8,115.5 83.8,119.0 78.9,125.0 73.0,131.0 68.7,139.5 68.2,141.5 68.2,146.5 65.4,156.5 65.4,159.5 66.9,162.5 77.4,173.0 85.0,185.0 87.2,187.0 88.0,190.4 94.0,192.3 95.6,193.5 96.5,195.0 98.0,192.7 101.0,193.8 100.4,195.5 100.5,199.0 101.5,202.5 103.0,204.0 104.0,204.5 108.0,204.6 110.7,202.5 111.8,201.0 113.0,205.5 111.0,207.4 109.0,208.5 109.6,211.5 108.6,215.0 108.6,219.0 109.2,220.5 111.4,222.5 115.1,229.0 116.7,247.5 117.2,266.0"/>
<path d="M338.0,112.9 333.5,108.2 327.3,103.5 321.0,100.9 311.0,94.9 303.2,91.0 302.5,89.3 300.5,87.7 298.5,87.5 297.5,88.5 295.5,87.7 292.0,85.4 289.0,84.5 286.5,83.1 281.0,78.3 279.5,78.0 275.5,75.5 275.0,73.6 273.0,74.1 272.0,73.1 267.5,71.5 264.0,69.5 259.5,66.1 258.0,63.1 256.0,61.4 255.5,61.1 254.0,62.1 253.0,62.1 250.0,60.1 248.5,60.0 247.6,59.5 247.2,57.5 246.5,56.4 242.5,56.3 241.7,57.0 241.8,58.5 239.5,58.8 239.0,58.3 233.5,57.9 233.0,57.4 230.5,57.3 230.0,56.9 227.5,56.9 227.0,56.5 224.5,56.7 221.5,55.5 221.9,51.5 221.5,50.6 218.5,49.5 216.0,49.9 213.0,49.6 210.0,50.2 209.0,50.5 206.3,53.5 202.5,54.1 201.5,53.7 197.5,54.4 196.0,53.7 192.5,53.8 191.5,53.3 188.5,53.3 187.0,52.7 184.0,52.7 180.0,51.5 170.5,50.0 169.5,54.5 169.0,54.6 165.5,51.9 158.5,49.4 145.5,47.7 129.0,46.7 120.0,44.8 119.2,44.0 125.5,34.0 127.4,30.0 130.0,16.0 130.0,11.5 129.5,10.0 128.7,3.0"/>
<path d="M11.0,110.8 11.6,109.0 11.0,107.4"/>
<path d="M11.0,130.5 13.7,123.0 13.2,121.5 11.0,119.2"/>
<path d="M11.0,172.7 13.0,171.8 13.8,170.5 13.0,168.5 11.0,167.2"/>
<path d="M78.1,202.5 80.5,201.2 82.0,199.4 82.7,197.0 82.4,194.5 81.0,192.3 79.0,190.8 76.5,190.2 73.5,190.6 71.3,192.0 69.8,194.0 69.3,196.0 69.6,198.5 71.0,200.7 73.0,202.2 75.5,202.8 78.1,202.5"/>
<path d="M80.0,228.0 83.1,226.5 85.2,224.0 86.1,221.0 85.7,218.0 84.0,215.3 81.0,213.3 77.5,212.7 74.0,213.3 71.3,215.0 69.5,217.5 68.9,220.0 69.3,223.0 70.8,225.5 73.5,227.4 76.5,228.3 80.0,228.0"/>
<path d="M93.3,245.0 94.3,243.5 94.3,239.0 93.0,236.4 91.5,235.1 90.7,238.0 91.0,241.0 92.5,245.3 93.3,245.0"/>
<path d="M93.9,254.5 92.5,250.2 91.6,252.0 93.2,254.5 93.9,254.5"/>
<path d="M60.2,3.0 59.4,15.0 59.5,19.5 56.2,35.5 52.6,46.0 52.6,48.5 53.2,50.0 57.7,54.5 59.5,55.4 78.0,51.7 89.0,54.1 93.0,53.6 95.4,54.0 90.5,57.1 86.5,61.0 82.7,65.5 81.3,69.0 78.9,79.0 78.9,95.0 80.1,107.0 83.4,115.5 82.5,118.5 71.7,130.5 67.5,138.9 66.9,141.5 66.9,146.0 64.0,156.5 64.0,159.5 64.7,161.5 66.0,163.5 76.4,174.0 83.7,185.5 86.1,188.0 86.5,197.0 87.0,197.5 89.5,195.2 90.5,195.0 91.4,195.5 95.0,199.5 99.7,208.0 102.5,210.0 103.6,211.5 103.8,213.0 102.0,216.0 101.7,221.0 104.3,224.0 107.5,225.5 110.1,229.0 110.8,231.5 110.7,234.5 112.6,237.5 111.9,240.0 109.3,243.0 109.0,248.5 110.5,253.0 111.0,256.1 113.7,260.5 114.2,266.0"/>
<path d="M338.0,105.1 328.0,100.5 321.5,98.1 314.5,94.0 310.9,88.5 307.0,85.3 299.5,76.4 293.5,72.1 291.1,68.5 289.5,65.0 285.8,60.0 280.9,56.5 277.5,52.0 276.7,49.0 275.3,46.5 268.2,39.0 265.0,33.8 261.0,30.0 252.0,29.7 249.5,28.0 248.0,25.1 247.0,24.7 241.0,26.1 239.4,26.0 237.1,24.0 236.1,20.5 232.8,20.5 231.5,21.1 230.3,20.0 224.0,19.5 222.5,21.0 213.5,24.8 211.5,23.2 208.8,22.5 204.5,17.7 199.5,13.4 192.6,16.5 191.0,20.5 190.0,21.2 187.0,22.0 185.4,24.5 184.5,25.0 181.5,24.3 180.4,22.0 179.0,20.9 177.5,20.8 174.5,21.6 172.0,19.9 169.8,20.5 169.5,23.0 167.5,23.5 166.7,23.0 166.7,22.5 168.1,20.5 168.0,18.8 167.0,17.4 165.0,18.1 163.0,16.9 162.2,14.5 162.5,11.5 161.5,11.3 159.0,12.9 157.4,13.0 156.3,12.0 155.6,10.0 153.2,8.5 151.5,5.6 146.5,3.5 144.5,3.3 143.5,3.9 143.3,4.5 143.3,7.5 144.1,9.5 148.8,14.5 150.9,19.0 156.7,27.0 160.3,35.5 161.4,40.5 161.6,44.5 161.0,48.5 146.0,46.4 129.5,45.4 121.0,43.6 126.5,34.0 128.2,30.0 130.9,16.0 131.0,11.5 129.7,3.0"/>
<path d="M186.4,3.0 186.2,4.5 188.0,5.1 189.9,7.0 191.3,10.0 192.5,10.1 193.7,9.5 187.2,3.0"/>
<path d="M11.0,186.3 12.5,184.8 15.5,184.6 17.5,183.0 16.7,178.5 18.5,173.9 21.5,173.6 23.5,171.1 26.5,171.0 27.1,170.5 27.0,169.5 25.4,167.0 27.0,164.5 25.0,163.0 23.0,160.4 19.5,160.0 17.1,152.0 18.0,150.9 20.5,151.8 22.0,151.7 23.0,150.5 22.9,149.5 21.5,147.9 18.5,147.0 18.5,145.6 19.7,143.5 19.1,140.5 20.0,138.0 21.2,136.5 24.0,134.3 26.5,133.6 27.0,133.0 27.3,130.0 28.4,126.5 27.6,122.5 28.0,121.9 29.5,121.6 30.0,121.1 29.2,119.0 30.4,115.0 30.3,111.0 29.3,107.0 26.4,104.0 25.0,101.4 20.8,99.0 19.6,97.0 19.2,94.5 19.3,90.5 21.1,86.5 21.0,83.5 18.6,80.5 17.9,78.0 14.0,71.1 13.0,70.4 11.0,70.0"/>
<path d="M78.5,204.0 81.5,202.5 83.0,201.0 84.0,199.0 84.0,194.0 83.0,192.0 80.0,189.5 78.5,189.0 76.0,189.0 73.5,189.0 72.0,189.5 69.0,192.0 68.0,194.0 68.0,199.0 69.0,201.0 72.0,203.5 73.5,204.0 78.5,204.0"/>
<path d="M107.0,206.1 103.5,205.6 100.5,203.0 99.1,199.0 99.5,195.0 100.4,195.0 100.1,200.5 101.1,202.5 103.0,204.4 104.0,204.9 108.0,204.9 110.5,202.9 110.9,203.0 111.0,203.7 110.0,204.7 107.0,206.1"/>
<path d="M98.4,266.0 99.4,262.0 97.7,258.5 98.3,253.0 96.0,248.5 96.3,247.5 98.2,245.5 101.2,239.5 99.1,236.5 98.6,233.5 94.5,232.6 92.7,231.0 92.5,230.0 93.5,226.0 95.0,224.0 94.9,222.5 94.0,221.7 91.7,221.0 88.0,216.2 87.5,215.8 87.0,216.5 84.5,213.5 82.0,212.0 80.5,211.5 77.5,211.5 74.5,211.5 73.0,212.0 70.5,213.5 68.0,216.5 67.5,218.0 67.5,220.5 67.5,223.0 68.0,223.5 68.0,224.5 70.5,227.5 74.5,229.5 80.5,229.5 81.0,229.0 82.0,229.0 84.5,227.5 87.0,224.5 87.4,225.0 88.5,243.5 88.7,253.5 89.0,254.8 93.9,259.0 95.1,261.0 95.2,262.5 93.4,266.0"/>
<path d="M59.2,3.0 58.5,15.0 58.6,19.5 55.4,35.5 51.8,45.5 51.7,48.5 52.2,50.0 57.0,55.0 59.5,56.3 76.5,52.8 90.3,55.5 85.5,60.1 81.2,65.5 79.9,69.0 77.7,78.0 77.5,95.0 78.6,106.0 81.9,115.5 81.5,117.5 76.6,123.5 70.8,129.5 66.4,138.0 65.6,141.0 65.5,146.0 62.5,158.0 63.0,161.0 64.3,163.5 75.1,174.5 82.8,186.5 85.0,189.0 85.1,203.5 86.2,214.5 83.0,212.4 80.5,211.4 74.5,211.4 74.0,211.9 73.0,211.9 70.5,213.4 67.9,216.5 67.9,217.5 67.4,218.0 67.4,223.0 68.9,226.0 70.5,227.6 74.5,229.6 80.5,229.6 83.0,228.6 86.3,226.5 86.7,240.5 87.9,255.0 88.5,258.3 90.2,259.5 91.2,262.0 90.5,263.3 89.0,263.1 88.8,266.0"/>
<path d="M338.0,102.3 330.5,98.5 326.0,97.0 322.8,94.5 322.0,91.0 320.6,89.0 312.5,82.5 307.3,76.5 305.0,72.0 291.5,58.7 288.0,53.8 282.1,47.0 278.5,40.3 274.5,36.0 273.3,31.5 272.2,29.5 267.1,26.0 263.6,22.0 259.5,19.0 245.5,19.6 238.5,19.4 222.0,18.0 214.0,16.5 205.5,13.8 200.1,11.0 194.8,7.5 190.5,3.0"/>
<path d="M154.0,46.1 134.5,44.1 129.5,44.0 122.4,42.5 127.2,34.5 129.0,30.5 131.8,17.0 131.9,10.5 131.5,9.1 136.0,12.5 136.7,13.5 137.5,16.3 141.7,19.5 146.5,26.0 147.8,29.5 151.0,34.1 153.5,36.5 154.2,40.5 154.5,46.0 154.0,46.1"/>
<path d="M11.0,47.7 11.9,46.5 11.0,44.2"/>
<path d="M11.0,195.6 14.5,190.0 16.0,190.3 17.5,192.4 18.5,193.0 25.0,189.6 26.5,188.0 28.0,185.0 28.1,182.0 27.7,179.5 28.1,178.5 30.0,177.8 33.0,178.5 34.5,177.5 35.0,173.5 35.9,170.5 34.1,168.0 34.6,164.0 34.0,161.0 34.1,158.5 33.5,157.0 31.5,154.5 32.4,151.5 31.3,149.0 34.0,145.9 39.5,145.4 40.7,143.5 41.0,142.0 39.3,138.5 38.7,135.5 35.4,125.0 37.0,118.0 40.6,111.0 38.4,108.0 38.6,105.0 35.9,98.5 35.9,95.5 34.8,92.0 34.7,85.0 35.7,81.5 35.1,75.5 33.0,73.6 29.5,74.2 28.0,73.9 27.0,73.1 26.5,69.5 25.5,67.0 25.5,61.5 24.5,59.8 21.0,60.2 13.0,59.8 11.0,58.6"/>
<path d="M78.6,204.0 81.5,202.6 83.2,201.0 84.4,199.0 84.4,194.0 83.2,192.0 80.0,189.4 79.0,189.4 78.5,188.9 75.0,188.9 72.0,189.4 68.9,192.0 67.9,194.0 67.9,199.0 68.9,201.0 72.0,203.6 73.5,204.1 78.6,204.0"/>
<path d="M92.5,209.6 90.4,208.0 88.8,205.5 89.3,203.5 91.0,202.2 93.0,203.6 94.3,207.5 94.1,208.5 92.5,209.6"/>
<path d="M104.5,266.0 103.8,259.0 104.5,257.5 106.5,255.0 108.0,257.5 108.2,260.0 109.8,264.0 109.8,266.0"/>
<path d="M58.3,3.0 57.6,19.5 54.5,35.5 50.9,45.5 50.8,48.5 51.4,50.5 56.8,56.0 59.5,57.2 76.0,54.0 87.2,56.5 79.9,65.0 78.6,68.5 76.2,78.5 76.2,95.0 77.2,106.0 80.5,115.5 80.4,116.5 75.5,122.7 69.9,128.5 65.2,137.5 64.3,140.5 63.7,148.0 61.5,155.5 61.2,158.0 61.8,161.5 63.4,164.5 74.2,175.5 81.5,187.0 83.6,189.5 83.5,192.5 83.5,192.0 80.0,189.2 79.0,189.3 78.5,188.8 73.5,188.8 70.5,190.3 68.8,192.0 67.8,194.0 67.8,199.0 68.8,201.0 72.0,203.7 73.0,203.7 73.5,204.2 78.5,204.2 81.5,202.8 83.8,200.5 83.8,204.0 85.2,213.5 80.5,211.3 74.5,211.3 72.0,212.3 69.3,214.5 67.8,216.5 67.8,217.5 67.3,218.0 67.3,223.0 68.8,226.0 70.5,227.7 74.5,229.7 80.5,229.7 85.2,227.5 85.9,244.0 87.8,260.5 87.8,266.0"/>
<path d="M338.0,96.5 333.6,91.0 325.7,84.5 323.1,81.5 316.2,77.5 312.3,72.5 310.7,69.0 306.7,64.0 303.0,61.2 291.0,48.5 288.5,42.5 286.0,39.0 285.0,36.0 281.3,33.0 279.7,29.0 276.5,25.2 272.0,21.9 267.3,16.5 266.0,16.3 255.5,18.0 245.0,18.5 232.0,17.8 220.0,16.5 213.2,15.0 205.0,12.1 197.1,7.0 193.6,3.0"/>
<path d="M144.5,43.5 130.0,42.7 124.2,41.5 129.7,31.5 131.0,24.8 131.5,24.6 134.0,28.0 137.5,28.6 139.5,30.5 142.5,36.0 143.1,40.0 144.5,43.5"/>
<path d="M11.0,211.3 13.5,210.0 17.0,209.5 19.5,210.3 22.2,209.0 22.6,207.5 19.2,205.5 19.2,204.5 20.5,204.1 22.3,205.0 22.5,205.7 23.3,203.5 26.5,201.8 27.9,199.0 27.3,196.5 27.7,195.0 34.8,185.0 37.5,182.0 40.3,181.0 40.8,178.0 44.1,176.5 46.5,173.0 47.4,170.5 49.1,169.0 49.3,166.5 48.8,162.0 47.4,160.0 45.6,155.5 44.9,151.5 44.1,150.0 45.5,144.5 39.4,124.5 39.2,122.5 39.8,120.5 41.5,117.5 42.5,116.6 48.0,116.0 48.5,121.4 50.5,122.5 52.0,125.0 53.3,128.5 54.5,134.3 55.0,134.6 55.3,133.5 54.5,131.5 54.1,128.5 56.0,122.5 56.0,119.9 56.8,120.0 57.5,122.3 60.6,115.0 59.5,111.0 57.5,106.5 55.5,104.4 55.0,108.8 54.5,106.0 52.6,101.0 53.4,96.5 53.1,91.5 50.0,89.4 46.8,76.5 42.1,66.0 41.0,61.9 37.0,59.2 35.2,55.0 34.4,51.5 32.5,48.0 29.0,46.5 17.6,38.5 14.7,30.0 11.0,25.7"/>
<path d="M57.8,147.5 58.6,145.5 58.8,140.5 58.0,139.1 55.5,137.1 55.5,145.0 56.7,147.5 57.0,147.8 57.8,147.5"/>
<path d="M32.7,202.0 32.8,201.0 31.5,200.5 31.4,202.0 32.7,202.0"/>
<path d="M11.0,232.4 11.9,230.0 11.0,227.9"/>
<path d="M11.0,240.1 11.8,239.0 11.0,237.3"/>
<path d="M57.4,3.0 56.8,19.0 53.7,35.0 49.9,45.5 49.9,48.5 50.4,50.5 56.0,56.4 59.0,58.0 61.0,58.0 75.0,55.2 83.7,57.0 84.3,57.5 80.0,62.5 78.4,65.0 74.9,78.5 74.8,94.5 75.9,106.5 79.0,116.1 77.1,115.5 75.5,113.4 73.0,113.6 68.8,111.0 70.1,107.5 72.4,105.0 73.4,99.5 71.8,97.0 72.9,94.0 69.9,90.5 69.6,87.0 68.7,84.0 65.5,83.9 59.0,82.3 56.0,82.2 50.0,79.4 47.9,72.0 45.0,65.9 43.0,59.5 40.2,52.5 39.3,46.5 34.5,42.1 32.0,38.1 30.0,36.5 28.5,27.0 26.2,25.5 23.8,23.0 19.0,20.8 16.5,18.4 13.5,17.8 11.0,16.5"/>
<path d="M338.0,87.0 332.5,82.8 326.5,75.1 323.2,72.0 321.1,68.0 314.0,61.0 308.5,54.1 305.5,52.4 297.9,45.0 295.5,39.5 293.5,36.9 292.5,34.0 289.6,30.5 287.1,26.5 282.6,23.5 277.2,19.0 272.4,14.0 256.0,16.8 247.0,17.3 239.0,17.1 222.0,15.7 214.0,13.9 206.1,11.0 201.0,7.7 196.1,3.0"/>
<path d="M134.0,41.0 130.0,41.4 125.8,40.5 129.5,34.3 132.2,37.0 134.0,41.0"/>
<path d="M11.0,242.6 13.0,242.2 14.5,241.2 15.5,238.1 17.6,235.5 18.9,229.0 18.5,226.5 18.7,224.5 17.8,221.5 18.0,220.0 19.0,219.4 21.5,220.1 24.0,219.3 26.0,219.8 26.5,220.5 26.3,222.5 27.0,226.0 28.0,225.8 29.0,225.0 30.4,218.0 32.8,214.5 39.6,210.5 39.5,205.0 41.4,201.0 40.5,197.5 41.7,194.0 41.4,192.5 39.5,190.5 39.5,188.5 40.5,187.8 50.5,189.1 51.8,186.0 54.1,184.5 54.7,183.5 53.5,175.4 52.3,171.5 52.8,168.5 52.3,165.0 52.5,163.0 51.1,159.0 50.7,155.5 49.0,152.5 49.5,149.5 51.0,145.5 47.3,139.0 43.0,124.5 43.4,122.5 44.5,121.0 48.0,119.9 48.5,123.1 49.5,123.8 50.5,125.5 53.1,135.5 53.9,145.5 56.6,151.0 57.9,156.0 57.9,160.0 58.9,163.5 59.3,168.5 60.5,169.9 61.5,169.2 63.0,166.5 64.5,167.7 73.0,176.2 80.5,187.9 82.3,190.0 82.4,190.5 82.0,190.5 80.0,189.1 79.0,189.2 78.5,188.7 73.5,188.7 70.5,190.2 68.7,192.0 67.7,194.0 67.7,199.0 68.7,201.0 72.0,203.8 73.0,203.8 73.5,204.3 78.5,204.3 82.5,202.5 82.8,208.0 83.9,212.5 80.5,211.2 74.5,211.2 72.0,212.2 68.7,215.0 67.7,216.5 67.7,217.5 67.2,218.0 67.2,223.0 68.8,226.0 70.5,227.7 74.5,229.7 80.5,229.7 83.0,228.9 84.0,228.1 84.6,231.5 84.9,243.5 86.1,256.5 87.0,261.0 86.8,266.0"/>
<path d="M54.6,195.0 55.6,193.5 55.5,193.0 54.5,192.5 53.1,193.0 52.6,194.5 53.5,195.2 54.6,195.0"/>
<path d="M37.5,193.7 36.3,193.5 37.0,192.9 38.0,192.9 37.5,193.7"/>
<path d="M23.6,231.5 26.7,227.0 26.9,226.5 26.5,226.2 24.5,226.5 23.0,228.2 22.0,231.0 22.5,231.6 23.6,231.5"/>
<path d="M56.5,3.0 55.8,19.0 52.7,35.0 49.1,45.0 49.1,49.5 50.3,52.0 52.5,54.3 56.0,57.5 58.5,58.7 61.0,59.0 74.0,56.4 82.0,58.0 78.7,62.0 77.2,64.5 74.0,75.3 70.0,74.7 64.5,75.4 61.5,75.0 60.0,75.8 59.0,75.9 57.5,74.8 55.5,72.0 50.0,69.3 47.2,63.0 46.0,58.5 43.0,51.0 41.8,45.0 36.8,41.0 35.4,38.5 32.4,28.0 32.5,20.5 32.0,17.9 30.5,16.8 27.0,15.4 23.5,12.0 20.4,10.5 18.1,6.5 14.1,3.0"/>
<path d="M338.0,78.7 335.1,76.5 327.3,64.5 325.0,61.7 322.5,60.0 321.0,58.0 318.5,56.0 316.4,52.5 313.5,50.4 310.5,47.4 305.5,44.1 302.9,41.5 301.4,39.5 299.8,35.0 296.4,29.5 290.0,21.0 282.7,13.5 280.0,9.4 272.5,12.4 264.5,14.3 255.5,15.7 243.5,16.2 232.0,15.5 221.5,14.4 210.0,11.1 206.5,9.5 203.0,7.2 198.8,3.0"/>
<path d="M52.0,140.2 51.4,140.0 50.6,138.0 49.6,132.5 47.0,126.0 47.2,124.5 48.0,124.1 48.9,126.0 48.8,127.5 49.3,128.0 49.7,131.5 50.2,132.0 50.2,133.5 50.8,134.0 50.8,135.5 51.3,136.0 51.2,137.5 51.7,138.0 51.6,139.5 52.0,140.2"/>
<path d="M54.0,151.4 54.0,150.0 54.0,151.4"/>
<path d="M56.5,163.8 54.7,161.0 54.7,157.0 54.1,152.0 54.5,151.3 54.8,153.5 55.5,154.0 55.5,156.0 56.1,156.5 55.9,158.5 56.4,159.0 56.4,161.0 56.8,161.5 56.5,163.8"/>
<path d="M59.5,182.6 59.1,180.5 58.6,180.0 58.4,177.5 57.3,176.5 55.8,172.5 55.7,170.5 56.7,167.5 56.7,164.0 57.0,163.9 57.1,166.0 57.6,166.5 59.4,173.5 58.8,176.5 59.2,177.0 59.2,179.5 59.7,180.0 59.5,182.6"/>
<path d="M11.0,246.4 14.0,245.6 17.5,245.9 19.8,245.0 21.6,243.5 28.0,235.5 31.5,234.0 31.3,227.0 32.5,220.0 33.1,218.5 35.0,216.3 45.0,211.6 47.1,208.5 50.1,208.0 52.0,206.7 58.5,204.5 60.0,201.5 63.0,199.5 63.3,191.5 65.1,190.0 66.2,188.0 68.9,186.5 70.3,185.0 71.8,179.0 72.5,177.9 79.7,189.0 78.5,188.6 73.5,188.6 70.5,190.1 68.6,192.0 67.6,194.0 67.6,199.0 68.6,201.0 70.5,202.9 73.5,204.4 78.5,204.4 81.1,203.0 81.5,208.0 82.4,211.5 74.5,211.1 70.5,213.1 67.6,216.5 67.6,217.5 67.1,218.0 67.1,223.0 68.7,226.0 70.5,227.8 73.0,229.3 74.0,229.3 74.5,229.8 80.5,229.8 83.0,229.0 83.5,231.5 84.5,250.5 86.0,261.0 85.9,266.0"/>
<path d="M60.0,188.3 59.6,186.0 60.0,184.4 60.0,188.3"/>
<path d="M55.6,3.0 54.9,18.5 51.7,35.0 48.2,45.0 48.4,50.0 49.6,52.5 53.0,56.0 55.5,58.2 58.5,59.6 61.5,59.8 73.0,57.5 79.5,58.9 76.7,62.5 74.5,67.7 72.0,67.5 68.0,66.2 64.5,66.2 60.0,65.1 55.5,63.2 50.0,59.2 47.7,53.0 46.0,49.8 45.5,45.0 38.3,38.5 34.9,27.5 34.8,19.5 34.3,15.0 30.0,9.0 26.6,3.0"/>
<path d="M338.0,69.6 331.2,60.0 324.5,54.0 321.5,49.5 316.2,44.0 313.0,39.7 310.0,37.5 306.0,31.5 301.7,27.5 299.4,23.5 292.2,14.0 290.0,10.5 284.5,4.7 284.0,4.5 279.5,7.5 273.7,10.5 265.0,13.0 254.5,14.6 241.5,14.9 226.0,13.8 216.5,11.8 207.5,8.3 203.5,5.5 201.1,3.0"/>
<path d="M71.0,213.0 71.1,212.0 74.0,208.9 76.5,206.8 80.0,204.8 80.9,211.0 74.5,211.0 72.0,212.0 71.0,213.0"/>
<path d="M11.0,249.4 26.0,249.7 27.0,249.1 29.1,246.5 30.0,242.5 33.0,240.9 36.9,241.0 37.0,240.5 34.6,236.5 33.9,231.5 35.1,220.0 37.0,217.6 39.0,216.5 43.5,215.3 46.5,215.4 51.5,216.9 56.0,219.3 60.0,222.6 64.5,222.2 67.0,221.0 67.0,223.0 68.6,226.0 70.5,227.9 73.0,229.4 74.0,229.4 74.5,229.9 80.5,229.9 81.0,229.4 82.0,229.5 83.4,250.5 85.1,266.0"/>
<path d="M54.7,3.0 53.9,18.5 50.8,34.5 48.0,42.7 43.6,39.5 40.6,36.0 40.0,33.5 38.3,30.5 37.2,27.0 37.1,14.0 34.4,11.0 29.7,4.0 29.6,3.0"/>
<path d="M282.7,3.0 277.0,7.1 269.2,10.5 260.5,12.6 248.0,13.8 236.5,13.6 226.5,12.6 221.0,11.6 210.4,8.0 207.0,6.0 203.6,3.0"/>
<path d="M338.0,58.3 331.5,51.9 319.4,35.0 314.8,31.5 310.6,26.0 304.0,19.5 298.3,12.0 296.6,9.0 291.3,3.0"/>
<path d="M67.0,60.0 66.9,59.5 68.4,59.5 67.0,60.0"/>
<path d="M18.4,266.0 17.8,261.5 18.5,258.3 18.0,257.8 16.0,257.7 14.1,257.0 13.6,256.5 13.9,255.5 16.0,254.7 19.0,255.1 24.0,252.8 28.5,252.8 32.5,250.5 35.0,247.6 38.2,246.5 41.5,244.2 36.2,231.5 36.8,229.0 37.4,221.0 39.0,219.0 41.5,218.2 45.5,218.3 54.0,220.8 57.0,223.5 60.5,225.0 64.0,227.4 65.0,227.3 68.5,225.5 68.5,226.0 70.5,228.0 73.0,229.4 74.0,229.4 74.5,229.9 81.0,229.9 82.4,250.5 84.3,266.0"/>
<path d="M279.5,3.0 274.6,6.5 267.0,9.7 262.0,11.1 255.0,12.2 247.5,12.7 236.5,12.4 227.5,11.5 221.5,10.4 211.5,6.8 206.4,3.0"/>
<path d="M338.0,45.7 334.3,41.0 328.2,34.5 325.3,32.5 318.5,25.7 314.6,20.5 311.0,17.7 306.9,12.0 304.1,9.5 302.4,7.0 299.8,5.0 298.5,3.0"/>
<path d="M23.0,266.0 23.8,265.0 22.4,262.0 22.3,261.0 26.0,258.0 27.0,258.2 29.5,261.0 31.5,262.5 36.0,262.3 42.0,259.3 43.7,257.0 44.4,254.5 47.0,252.9 49.0,252.4 50.0,255.1 51.0,255.7 52.5,255.7 54.5,253.5 54.6,251.0 58.0,249.5 57.0,248.8 52.5,248.2 47.5,246.5 45.3,243.5 41.6,236.5 40.1,230.5 39.7,224.0 40.2,223.0 41.5,222.2 45.0,221.5 48.5,223.2 52.0,222.6 53.5,223.0 55.5,225.0 59.0,227.1 63.1,231.0 63.4,232.0 63.2,234.5 64.8,237.0 65.1,240.0 64.5,242.7 62.5,243.7 61.5,244.9 61.5,247.5 62.5,248.0 65.5,248.0 69.0,244.3 73.5,242.2 74.0,239.8 73.1,236.5 75.6,234.5 77.0,232.3 80.0,230.8 80.6,242.5 83.3,266.0"/>
<path d="M50.5,251.6 50.0,251.0 51.0,250.2 51.5,251.0 50.5,251.6"/>
<path d="M276.8,3.0 270.5,6.8 262.5,9.7 254.0,11.2 247.0,11.6 235.5,11.2 222.5,9.3 213.6,6.0 209.0,3.0"/>
<path d="M338.0,34.9 333.5,32.0 327.0,25.0 322.5,19.2 319.6,17.0 318.2,14.5 315.5,12.3 313.1,9.0 306.0,4.3 304.7,3.0"/>
<path d="M43.5,227.2 42.5,227.1 42.5,225.0 43.9,225.5 44.0,226.5 43.5,227.2"/>
<path d="M49.0,236.7 48.0,236.9 47.5,236.5 48.1,234.0 45.9,232.5 46.5,229.5 48.1,227.0 49.3,226.0 52.5,225.4 57.0,228.9 59.0,231.7 57.0,232.6 52.0,231.3 51.0,231.4 49.4,233.5 49.9,235.5 49.0,236.7"/>
<path d="M43.6,266.0 46.0,263.9 50.5,262.4 53.0,262.6 54.5,262.0 58.5,259.5 61.0,256.1 65.0,255.2 68.5,251.8 72.4,250.5 74.0,249.0 76.0,248.4 80.0,245.3 82.3,266.0"/>
<path d="M273.8,3.0 269.5,5.6 261.0,8.8 254.0,10.0 244.5,10.5 235.0,10.1 227.5,9.1 219.5,6.9 211.9,3.0"/>
<path d="M338.0,28.7 336.5,26.5 334.5,21.5 316.2,3.0"/>
<path d="M55.7,266.0 58.0,264.4 63.0,263.8 66.5,262.2 68.5,262.9 73.0,262.8 74.5,261.8 76.3,259.5 79.0,257.6 80.0,256.3 81.2,266.0"/>
<path d="M270.7,3.0 267.0,5.0 260.0,7.7 254.5,8.7 244.5,9.4 235.0,9.0 228.0,8.0 220.5,5.6 215.6,3.0"/>
<path d="M338.0,14.0 333.5,10.5 332.0,7.7 329.1,6.0 326.1,3.0"/>
<path d="M77.0,266.0 80.0,263.7 80.2,266.0"/>
<path d="M267.5,3.0 259.0,6.6 254.4,7.5 244.5,8.3 235.5,7.9 229.0,7.0 224.3,5.5 218.9,3.0"/>
<path d="M263.9,3.0 260.0,4.9 256.0,5.9 244.0,7.2 236.0,6.9 230.5,6.1 227.0,5.1 222.7,3.0"/>
<path d="M260.8,3.0 255.0,4.8 244.0,6.1 233.8,5.5 228.5,4.2 225.7,3.0"/>
<path d="M257.1,3.0 249.0,4.6 241.5,4.9 234.5,4.5 229.0,3.0"/>
<path d="M251.2,3.0 248.0,3.6 241.5,3.7 233.3,3.0"/>
<path d="M59.0,43.4 60.2,42.0"/>
<path d="M95.6,62.0 91.5,65.6 88.3,69.5 85.8,79.0"/>
<path d="M85.7,80.0 85.7,94.0"/>
<path d="M85.8,95.0 86.2,99.0"/>
<path d="M86.3,100.0 86.7,104.0"/>
<path d="M86.8,105.5 90.6,115.0 89.1,121.0 83.5,128.1 77.5,134.1 73.8,141.5"/>
<path d="M73.7,143.0 73.6,148.0 72.6,152.5 70.8,157.5"/>
<path d="M70.8,158.5 82.0,169.9 89.3,181.5"/>
<path d="M90.0,182.2 99.0,187.2 105.5,189.7 107.6,190.0"/>
<path d="M104.5,198.3 107.5,201.7"/>
<path d="M11.0,171.5 12.0,170.9 12.3,170.0 11.0,168.4"/>
<path d="M93.0,242.5 93.1,239.5 92.0,237.0 91.5,238.0 91.9,240.5 92.5,243.0 93.0,242.5"/>
<path d="M96.0,196.8 97.0,197.7 97.4,195.5"/>
<path d="M107.5,208.2 106.8,208.5 107.6,210.0"/>
<path d="M107.3,219.5 107.7,221.0"/>
<path d="M11.0,133.8 13.5,131.9 16.5,131.0 17.1,130.0 15.9,127.0 16.8,123.5 15.9,121.5 13.3,118.0 12.5,115.5 12.7,113.5 14.4,111.0 14.8,109.0 14.7,105.5 11.7,99.0 13.6,95.0 12.9,92.0 14.2,89.0 14.3,87.5 13.5,86.3 11.0,85.5"/>
<path d="M11.0,179.0 12.2,178.5 12.8,177.5 12.4,174.0 14.8,172.0 16.8,168.5 15.6,166.0 13.0,164.8 11.0,163.0"/>
<path d="M89.5,230.0 89.7,226.0 88.5,224.8 88.3,225.5"/>
<path d="M89.3,229.5 89.5,230.0"/>
<path d="M94.8,256.0 95.0,253.8"/>
<path d="M93.7,250.0 93.2,248.0 93.5,246.4"/>
<path d="M92.0,234.0 90.5,232.9 90.4,234.0"/>
<path d="M91.3,246.5 91.3,250.0"/>
<path d="M93.8,256.0 94.5,256.3 94.8,256.0"/>
<path d="M96.5,198.5 97.5,199.8 98.0,195.5"/>
<path d="M107.5,207.5 105.0,207.6 101.7,206.5 105.2,209.0 106.6,211.5"/>
<path d="M105.6,216.0 105.2,217.0 105.4,221.0 106.5,222.2"/>
<path d="M11.0,140.5 16.2,134.0 19.0,133.0 20.7,128.0 20.0,125.5 20.4,122.5 16.3,118.5 15.8,115.0 18.4,110.5 20.1,105.5 20.1,103.5 18.3,101.0 17.0,100.2 15.5,100.1 15.0,99.5 14.8,97.5 15.7,94.0 15.3,91.0 15.8,87.0 14.7,85.0 11.9,83.0 11.0,78.8"/>
<path d="M11.0,150.1 11.5,148.0 11.0,146.8"/>
<path d="M11.0,180.7 13.0,180.5 13.7,180.0 14.3,178.5 14.6,174.5 19.0,169.5 17.8,166.0 12.7,162.0 11.7,159.0 11.0,158.3"/>
<path d="M99.5,204.0 99.0,203.5 99.5,204.4 99.5,204.0"/>
<path d="M100.5,205.5 100.0,204.9 100.5,205.5"/>
<path d="M95.4,257.5 95.8,256.5"/>
<path d="M97.5,240.7 97.5,238.5"/>
<path d="M91.5,232.5 90.5,230.5 91.0,226.5 90.7,225.0 89.0,223.0 87.9,225.0"/>
<path d="M96.8,266.0 96.5,264.3 94.9,266.0"/>
<path d="M99.5,205.9 101.0,207.6 104.0,209.7 105.3,212.5"/>
<path d="M105.2,213.5 103.4,216.0 103.8,219.0 103.3,221.0 104.0,222.2"/>
<path d="M11.0,153.7 12.0,152.5 14.5,152.0 16.1,148.5 15.5,147.3 11.9,144.5 11.5,143.0 13.1,141.5 14.5,138.8 22.0,133.8 25.1,127.5 24.9,122.5 23.7,119.0 26.5,114.5 27.8,108.5 27.5,107.4 24.1,105.0 22.0,102.0 19.1,99.5 17.6,97.5 17.3,85.5 15.4,82.5 16.0,79.0 14.5,74.5 12.5,72.3 11.0,71.5"/>
<path d="M11.0,182.3 14.5,183.0 15.5,182.7 15.8,182.0 15.4,179.5"/>
<path d="M15.7,176.5 17.5,172.7 20.7,171.5 20.4,167.0 23.0,165.5 23.5,164.0 22.0,162.5 16.5,163.0 15.5,162.6 15.2,161.0 16.5,160.5 16.8,160.0 16.5,157.5 15.5,156.9 14.0,157.9 13.0,157.6 11.3,156.0 11.0,154.8"/>
<path d="M107.5,206.7 105.5,206.9 103.5,206.4 100.4,204.0 98.6,200.0 98.7,195.5"/>
<path d="M97.6,266.0 97.7,263.5 96.8,262.0 96.7,257.0"/>
<path d="M97.5,236.6 96.4,235.0"/>
<path d="M91.6,231.0 91.4,230.0"/>
<path d="M92.1,226.0 91.7,224.0 88.9,221.0"/>
<path d="M88.4,221.0 87.7,225.0"/>
<path d="M95.0,258.8 96.4,261.5 96.3,262.5 95.3,264.0"/>
<path d="M86.0,195.0 86.5,201.3 88.0,197.4"/>
<path d="M99.5,210.0 101.5,211.3 102.2,212.5 99.4,219.0 99.9,221.5 102.2,223.5"/>
<path d="M105.5,225.8 106.7,226.5 107.6,228.0"/>
<path d="M107.5,231.2 106.0,231.5 104.7,232.5 105.5,233.9 107.5,234.1"/>
<path d="M11.0,188.1 13.0,186.7"/>
<path d="M18.1,179.0 20.0,176.0 22.0,175.3 24.1,173.5 25.0,173.2 28.0,173.6 29.7,172.5 30.0,171.5 29.0,168.0 31.0,165.8"/>
<path d="M31.0,161.5 28.0,160.1 26.3,158.5 23.5,156.9 21.0,156.2 19.7,154.5 20.5,153.5 22.5,153.5 23.4,153.0 24.4,150.0 24.3,149.0 22.6,146.0 22.5,143.5 21.2,141.0 21.5,140.2 24.1,139.0 26.0,136.9 30.5,136.4 32.5,135.6 34.1,133.5 34.2,131.5 32.4,125.5 32.6,123.5"/>
<path d="M33.1,119.5 32.2,111.0 31.1,107.0 28.9,104.0 27.5,100.6 24.7,98.0 21.4,94.0 22.0,90.1 24.4,87.5 23.9,85.0 24.5,82.5 24.2,81.0 22.0,79.5 18.7,75.0 17.7,72.0 17.7,69.5 17.0,68.5 13.5,67.7 11.0,67.9"/>
<path d="M100.8,236.5 101.0,235.0 100.6,233.5 99.1,231.5 98.0,231.1 95.5,231.5 94.4,231.0 94.4,230.0 96.7,224.0 96.0,219.5 95.0,218.5 92.0,217.9 90.7,217.0 89.1,213.0 89.5,211.0 87.5,208.5"/>
<path d="M85.6,194.5 85.8,200.0"/>
<path d="M11.0,190.5 12.2,188.5"/>
<path d="M17.0,186.7 19.4,184.5 19.5,183.0"/>
<path d="M19.4,180.5 20.5,178.8 24.5,179.2 25.0,178.5 25.5,175.4 28.0,175.7 32.0,175.3 33.0,171.5 30.8,169.0 31.6,167.0"/>
<path d="M31.6,160.0 31.0,157.9 25.4,155.0 25.3,151.5 26.0,149.0 24.7,146.0 24.4,142.0 25.5,141.1 27.0,140.8 27.5,141.5 27.4,143.0 28.0,143.5 34.0,143.1 37.0,143.6 38.5,143.4 39.0,142.0"/>
<path d="M38.5,141.1 37.0,139.7 35.0,140.5 34.2,140.0 35.6,136.0 35.6,134.5"/>
<path d="M34.8,116.5 34.6,112.5 33.2,109.0 33.1,106.5 31.2,103.5 30.2,98.0 26.5,90.5 27.5,87.0 27.5,81.5 26.0,79.5 23.7,77.5 21.5,74.5 22.0,71.0 19.5,66.1 18.5,65.8 15.5,66.1 11.0,65.3"/>
<path d="M24.2,187.5 25.1,186.0 24.5,184.8 23.0,184.7 21.3,185.5 21.5,186.5 22.4,187.5 24.2,187.5"/>
<path d="M96.5,217.7 92.5,215.5 91.6,213.5 91.4,211.5"/>
<path d="M88.6,208.0 87.4,206.5 87.2,204.0 87.8,199.5 89.0,197.8"/>
<path d="M98.1,210.0 98.3,212.0 100.0,213.0 100.0,214.5 99.3,216.0 96.5,217.7"/>
<path d="M102.0,233.7 98.1,228.5 98.4,224.0 99.0,222.6 102.2,226.5 104.6,227.5 105.3,228.5 105.3,229.5 102.0,233.7"/>
<path d="M101.2,258.5 100.6,255.0 101.2,252.5 99.7,250.5 99.5,249.5 101.0,246.0 101.6,243.0 102.9,241.0 103.0,239.0 102.0,236.0 102.2,234.0 102.7,234.0 103.4,235.0 107.0,236.3 107.3,237.0 105.8,238.5 107.5,238.7"/>
<path d="M107.5,239.9 106.0,240.5 105.4,242.5 106.8,245.0"/>
<path d="M85.3,194.5 85.4,199.5"/>
<path d="M11.0,192.6 12.0,191.6 13.0,189.4"/>
<path d="M15.5,188.5 19.5,188.0 22.0,189.3 23.7,189.0"/>
<path d="M26.1,186.5 26.1,185.0 25.0,183.3 21.5,183.4 20.6,182.5 20.6,181.0 22.0,180.1 25.0,181.8 26.0,180.7 27.0,177.5 29.5,176.7 33.0,177.1 33.7,176.0 33.7,174.0"/>
<path d="M34.0,172.7 34.2,171.0 32.6,169.0 32.5,167.9"/>
<path d="M32.8,158.5 32.0,156.9 29.0,154.5 29.0,153.1 30.1,151.5 28.8,150.0 27.2,146.5 27.5,145.8 28.5,145.5 31.0,146.3 34.5,144.6"/>
<path d="M38.1,139.0 37.0,135.9"/>
<path d="M36.7,115.5 36.6,111.5 35.2,109.0 36.0,105.5 34.5,103.5 32.9,99.0 33.0,96.0 32.4,93.0 32.6,89.5 31.7,85.5 33.3,81.0 33.2,79.0 32.0,78.2 29.0,78.5 25.2,76.0 24.5,74.1 24.2,70.5 23.0,68.0 23.7,64.5 23.3,63.5 20.0,62.9 15.5,64.1 11.0,63.1"/>
<path d="M95.5,215.9 93.3,214.0 92.0,210.5"/>
<path d="M88.2,206.0 88.1,204.0 89.1,201.5 89.1,199.5 90.0,199.2 91.5,200.2"/>
<path d="M96.8,209.5 95.3,212.0 95.8,214.0 95.5,215.9"/>
<path d="M102.0,231.2 101.5,231.5 99.8,228.5 100.5,226.7 103.4,229.5 102.0,231.2"/>
<path d="M102.7,258.0 103.0,256.5 102.5,254.0 104.2,252.5 104.5,251.5 102.9,250.0 104.6,247.5 105.0,245.3 106.6,249.5"/>
<path d="M107.1,251.5 107.2,253.5"/>
<path d="M11.0,52.9 12.2,51.0 15.0,48.7 15.6,46.5 15.1,44.5 11.9,41.0 11.8,38.0 11.0,36.5"/>
<path d="M11.0,198.9 14.2,196.0 15.0,194.3 15.3,196.0 15.9,196.5 18.5,196.6 21.5,193.2 25.0,191.3"/>
<path d="M30.9,185.0 31.1,183.0 32.0,181.0 34.5,179.3"/>
<path d="M36.7,174.0 38.6,171.0 38.7,170.0 38.0,168.9 35.6,167.0 35.6,165.0"/>
<path d="M35.8,164.0 36.0,162.5 37.9,161.0 37.9,159.0 33.5,154.5 33.2,153.5 33.4,148.5 34.0,147.5 35.5,146.8"/>
<path d="M38.5,146.7 40.0,147.2 40.9,146.0"/>
<path d="M44.0,113.6 47.2,112.5 48.0,112.0 48.3,111.0 47.7,108.0 46.5,106.2 45.5,105.8 42.0,106.1 40.0,102.5 40.0,101.0 42.1,99.0 42.6,98.0 39.0,96.0 37.5,93.0 38.1,82.0 37.7,79.0 38.8,76.5 37.5,72.5 34.5,70.4 31.8,70.0 30.0,67.6 27.8,66.5 27.7,58.5 24.5,52.2 23.5,51.9 19.5,52.6 17.8,55.5 16.0,56.7 14.0,56.8 11.0,55.7"/>
<path d="M52.6,115.0 53.5,114.5 52.7,112.0 51.5,111.4 49.4,112.0 49.6,113.0 50.8,114.5 52.6,115.0"/>
<path d="M11.0,200.8 11.0,199.4"/>
<path d="M89.9,204.0 91.0,203.5 92.4,204.5 92.7,207.0 91.5,208.1"/>
<path d="M107.0,260.7 106.0,260.6 105.6,260.0 105.8,259.0 107.0,257.8 107.0,260.7"/>
<path d="M105.7,266.0 105.6,263.5 107.5,261.1 107.7,262.0"/>
<path d="M11.0,208.2 12.0,207.0 11.4,205.0 11.7,204.0 16.5,202.4 17.5,201.0 17.0,199.5 17.4,199.0 20.5,199.8 23.0,198.8 26.2,192.5"/>
<path d="M37.5,175.5 38.5,174.1 41.1,172.5 41.9,171.5 39.3,167.5 39.5,166.0 40.5,165.5 43.5,165.6 46.0,167.5 47.3,166.5"/>
<path d="M46.1,161.5 45.0,159.4 44.0,158.9 41.5,161.1 40.0,160.8 39.2,157.0 36.9,156.0 35.0,152.8 35.0,149.5 35.5,148.7 38.5,148.3 41.0,149.4 42.1,147.0"/>
<path d="M50.0,118.1 52.0,118.8 53.5,118.5 55.3,115.5 55.5,113.5 52.5,108.7 50.1,106.5 48.8,101.0 48.7,96.0 48.0,94.0 44.0,89.4 41.0,90.2 39.9,89.0 40.0,87.0 41.2,83.5 42.5,81.5 43.4,77.5 40.5,73.2 39.6,70.5 33.5,66.5 33.0,65.7 31.0,61.5 31.4,58.0 30.0,53.5 24.0,48.8 22.5,48.5 20.0,49.0 18.5,48.2 17.2,44.0 14.1,39.0 12.6,35.5 11.0,33.7"/>
<path d="M57.1,115.0 57.0,113.3 57.0,115.5 57.1,115.0"/>
<path d="M91.0,205.5 90.4,205.5 91.0,205.5"/>
<path d="M11.0,209.7 16.0,206.6 18.2,206.5 17.7,204.5 18.4,203.5 21.0,203.0 22.6,201.0 25.9,199.5 26.2,198.5 25.9,196.5 26.5,194.8"/>
<path d="M37.5,180.2 38.6,179.0 39.0,175.7 42.3,175.0 45.3,172.0 45.0,170.4 43.0,169.5 42.1,168.5 41.9,167.5 42.5,167.1 43.5,167.2 45.5,169.7 47.5,168.7"/>
<path d="M43.7,152.0 42.6,150.0 42.8,148.5"/>
<path d="M53.5,125.1 54.5,123.5 55.2,118.5 56.0,117.1 57.0,118.4 57.6,118.0 58.6,116.0 58.8,114.0 57.5,111.2 56.5,110.5 55.5,111.4 54.1,109.5 52.4,104.5 50.8,101.5 50.3,92.0 49.1,88.5"/>
<path d="M42.2,69.5 38.2,67.5 34.5,63.0 33.9,57.5 31.5,51.0 29.0,49.5 25.5,46.3 21.5,44.7 20.0,43.6 16.4,39.5 13.5,33.2 11.0,29.9"/>
<path d="M57.5,146.5 57.8,144.0 56.4,141.0"/>
<path d="M11.0,215.4 13.2,214.5 16.0,212.3 21.0,214.9 24.5,214.4 25.9,213.0 26.2,208.5 27.5,208.0 30.5,208.6 33.0,207.0 34.6,202.5 34.7,200.0 29.8,197.5 29.0,196.0 29.3,195.0"/>
<path d="M38.0,183.7 41.0,182.8 42.5,179.5 45.7,177.5 48.0,172.5"/>
<path d="M58.0,148.5 59.3,146.5"/>
<path d="M59.9,143.5 60.9,140.0 58.4,137.0 59.2,133.5 58.1,129.5 59.9,125.5 60.1,121.5 62.1,118.0 62.5,115.5 61.1,112.0 60.1,107.5 58.2,104.0 56.0,101.8 55.2,100.0 56.4,96.0 57.0,91.5 58.1,89.0 56.5,88.3 52.5,88.4 50.9,88.0"/>
<path d="M36.6,48.5 33.0,45.5 30.0,44.5 25.0,41.7 19.2,37.5 17.9,33.0 18.5,30.5 18.3,29.5 11.0,23.9"/>
<path d="M54.0,101.5 54.0,99.8 54.4,100.0 54.0,101.5"/>
<path d="M54.5,102.2 54.5,101.9 54.5,102.2"/>
<path d="M57.0,132.4 55.7,130.0 56.5,124.9 57.2,129.0 57.9,130.0 57.0,132.4"/>
<path d="M11.0,220.4 11.0,219.1"/>
<path d="M12.7,237.5 12.8,236.0 13.5,234.5 12.8,232.5 13.2,229.5 12.6,228.0 11.0,226.1"/>
<path d="M61.2,150.5 60.5,149.5 60.4,148.0 61.3,143.5 62.6,140.0 62.1,133.0 63.7,130.0 62.1,126.5 63.8,123.5 64.1,116.5 62.5,111.5 62.6,108.5 60.9,105.0 60.7,102.5 58.8,100.0 58.4,98.5 60.1,92.0 62.5,89.3 62.8,87.5 58.5,86.3 51.0,85.5"/>
<path d="M32.0,42.5 28.0,41.5 25.5,39.0 23.0,37.5 22.6,36.0 23.5,34.0 23.5,31.5 21.5,27.5 18.5,25.5 11.0,22.5"/>
<path d="M11.0,222.5 12.9,220.0 12.9,219.0 11.8,217.5 12.6,216.5 16.0,215.1 21.0,217.1 25.5,215.7 27.1,214.0 28.5,210.9 30.5,210.6 34.3,208.0 36.4,204.0 36.8,199.0 35.8,197.5 31.1,196.0 31.3,194.0"/>
<path d="M34.5,190.8 36.5,189.9 37.0,187.0 38.0,185.5 42.2,184.5 42.8,181.5 44.0,179.8 46.0,179.7 48.0,181.5 49.2,178.0 48.2,175.5 50.0,173.0"/>
<path d="M48.2,183.0 48.5,182.3 48.0,182.1 48.2,183.0"/>
<path d="M15.6,234.0 14.6,232.0 14.5,227.5 13.0,226.5 11.0,223.9"/>
<path d="M73.0,121.3 69.5,120.5 66.4,118.0 65.5,111.5 67.3,107.0 69.6,105.0 69.8,104.0 69.0,103.1 66.5,102.3 65.3,100.5 63.2,99.5 62.6,98.5 63.0,97.7 65.5,96.3 67.8,93.5 67.6,92.5 65.2,90.0 66.5,87.5 66.4,86.0 66.0,85.5 62.5,85.4 59.0,84.1 56.0,84.3 53.0,83.0 51.0,82.8"/>
<path d="M31.0,40.4 29.5,40.2 28.5,39.3 26.9,35.5 25.8,29.0 23.6,26.0 20.8,23.5 18.0,22.6 11.0,19.3"/>
<path d="M16.7,233.0 16.1,230.0 17.0,227.5 17.0,225.3 15.9,221.5 16.1,220.0 17.0,218.3 18.5,217.7 21.5,218.7 23.5,217.5 27.5,216.8 28.4,217.5 29.0,219.0 29.6,217.5"/>
<path d="M37.5,210.5 39.1,201.5 38.4,198.5 38.6,196.5 38.0,195.7 35.5,195.7 33.9,195.0 33.0,194.2 33.0,193.3 33.7,192.5 37.5,191.0 38.1,190.0 38.3,187.5 39.1,186.5 42.0,186.1 45.5,186.5 49.0,185.8 50.9,183.0 50.2,180.5 50.5,179.5 52.8,179.0 53.1,178.5"/>
<path d="M60.4,167.5 60.7,166.0"/>
<path d="M45.0,182.6 43.9,182.0 44.4,181.0 45.0,180.8 45.7,181.5 45.0,182.6"/>
<path d="M73.7,88.0 71.0,81.7 69.0,81.5 66.5,82.3 61.5,81.4"/>
<path d="M57.0,80.7 52.0,78.3"/>
<path d="M29.5,23.5 25.5,20.8 23.1,18.5 20.5,18.5 17.5,16.2 14.0,15.2 11.7,13.0 11.0,11.8"/>
<path d="M16.0,242.3 16.6,241.5 16.7,240.0"/>
<path d="M18.5,236.5 19.9,233.0 24.0,233.0 25.2,232.0 26.3,230.0 28.1,228.5"/>
<path d="M40.8,209.5 40.6,206.0 41.0,204.5 44.0,203.2 44.6,202.0 44.5,199.5 42.5,197.5 43.7,195.0 43.6,192.5 46.5,190.4 48.5,190.5 49.2,191.0 49.0,192.0 45.3,194.0 44.3,195.0 44.3,196.0 45.5,197.0 49.5,196.5 52.0,198.0 53.5,197.8 56.2,195.5 56.9,194.0 57.2,191.0 56.5,189.0 55.1,190.5 54.0,190.9 52.8,190.5 52.5,189.5 53.2,187.5 56.0,186.1 55.9,184.5"/>
<path d="M51.7,147.5 52.0,145.0 50.9,143.0"/>
<path d="M61.0,171.4 62.0,171.0 63.0,169.4"/>
<path d="M62.0,184.0 62.7,183.5 62.9,182.0 61.3,179.5 61.5,176.3 60.5,175.1 60.3,175.5"/>
<path d="M60.4,176.5 60.5,178.7 61.0,179.5 60.7,182.5 61.5,184.1 62.0,184.0"/>
<path d="M72.5,79.7 70.5,79.8 67.5,79.1 64.5,80.1 61.0,80.0"/>
<path d="M58.0,79.4 56.0,78.9 51.5,75.8"/>
<path d="M30.0,21.0 26.8,19.5 24.0,16.5 20.0,15.0 18.0,13.1 15.5,11.8 11.0,6.1"/>
<path d="M52.5,144.0 52.0,142.7 50.9,142.0"/>
<path d="M18.3,243.0 18.6,242.0 18.3,239.5 18.8,238.5 21.5,237.0 22.0,235.5 25.5,233.5 27.2,231.0 28.5,230.0"/>
<path d="M43.3,209.5 44.0,207.2 47.5,205.0 46.9,201.5 48.0,199.2 49.0,199.0 50.0,200.0 51.5,200.5 54.5,199.9 57.0,200.4 59.0,199.3 59.2,197.5 58.0,193.0 58.2,188.5 57.2,185.0"/>
<path d="M51.9,150.5 53.0,146.5"/>
<path d="M60.0,178.0 60.5,180.0 60.2,182.5 61.0,186.0 63.5,185.3 64.5,184.5 64.7,183.5 64.2,179.0 64.8,176.0 64.4,174.5 65.0,173.0 66.0,172.3"/>
<path d="M72.5,77.5 69.5,76.9 64.5,77.5 61.5,78.5 60.0,78.4 57.0,77.1 53.6,73.5 51.0,72.4"/>
<path d="M30.2,18.5 27.5,17.5 23.0,13.7 17.3,10.5 15.4,7.0 13.0,4.6 12.3,3.0"/>
<path d="M52.0,141.9 50.5,140.1 49.8,138.5"/>
<path d="M49.1,135.5 48.8,134.5"/>
<path d="M48.7,133.5 48.3,132.5"/>
<path d="M59.5,195.1 58.8,192.5 59.3,189.0 57.0,178.0"/>
<path d="M55.4,167.5 55.6,165.0 54.9,163.5"/>
<path d="M53.7,155.0 52.8,151.0 53.5,149.0 53.2,148.5"/>
<path d="M59.6,177.5 60.1,180.0 59.9,183.0 60.3,183.5 60.6,187.0 59.5,195.1"/>
<path d="M20.3,243.0 20.6,240.5 23.5,239.1 26.0,235.0 29.5,231.4"/>
<path d="M45.0,209.0 46.0,207.8 49.0,206.8 49.9,206.0 50.2,205.0 49.7,202.5 50.5,202.3 52.5,202.9 55.0,201.9 57.0,202.6 61.1,199.0 62.1,187.5 68.6,185.0 68.9,184.0 68.0,182.5 69.6,180.0 69.6,178.0 67.5,179.4 66.6,179.0 66.5,178.5 67.5,176.9 69.7,176.0"/>
<path d="M72.5,73.6 68.0,72.1 64.0,72.6 60.5,72.1 58.0,69.9 51.5,68.0"/>
<path d="M29.5,14.6 27.5,13.5 25.0,11.0 22.1,9.0 20.0,5.7 17.2,3.0"/>
<path d="M55.5,158.5 55.5,156.4 55.5,158.5"/>
<path d="M56.0,161.0 55.9,160.0"/>
<path d="M56.0,160.0 56.0,161.0"/>
<path d="M58.5,175.5 56.9,173.0 57.1,169.5"/>
<path d="M22.0,245.0 23.3,243.5"/>
<path d="M46.5,212.2 47.5,210.2 48.9,210.0 49.5,213.7"/>
<path d="M52.5,214.3 55.0,214.7 55.2,209.5 58.0,207.4 59.8,210.5 59.8,212.0 58.5,214.2 56.0,216.0 58.0,216.6 60.5,215.7 62.5,217.2 64.5,217.2"/>
<path d="M66.0,213.6 65.4,213.0 65.2,210.5 64.4,209.0 60.7,205.0 61.0,203.8 63.0,203.5 63.5,203.1 65.0,200.5"/>
<path d="M65.2,195.5 64.6,193.0 64.8,192.0 67.9,188.5 71.0,186.4 73.0,186.2"/>
<path d="M74.0,186.2 75.5,185.5"/>
<path d="M72.6,71.5 67.5,70.0 62.0,70.1 58.5,68.2 52.5,66.5 51.0,65.4"/>
<path d="M29.0,12.2 26.6,9.0 23.5,7.3 20.8,3.0"/>
<path d="M58.0,173.1 57.9,171.5"/>
<path d="M58.0,171.5 58.0,173.1"/>
<path d="M67.7,212.0 67.1,209.0 68.3,207.0 68.0,206.0 68.5,205.6 70.0,207.4 71.5,207.3"/>
<path d="M66.5,206.6 65.5,206.9 64.3,206.0 64.8,205.0 66.0,204.2 67.9,205.5 66.5,206.6"/>
<path d="M22.0,246.7 23.5,247.0 24.2,246.5 25.1,243.0"/>
<path d="M30.0,237.3 32.0,236.8"/>
<path d="M59.5,218.9 62.0,219.3 64.0,218.8"/>
<path d="M73.0,69.3 68.0,68.0 64.0,68.3 56.0,65.7 53.3,64.5 51.0,61.9"/>
<path d="M26.0,5.1 23.3,3.0"/>
<path d="M69.2,211.0 69.9,210.0 73.1,208.0"/>
<path d="M25.5,248.2 27.0,246.5 26.7,243.5 27.7,241.5 31.5,239.2 35.0,239.0 34.2,237.5"/>
<path d="M47.2,50.0 46.8,49.0"/>
<path d="M73.0,65.4 68.0,64.3 63.5,64.1 60.2,63.5 52.9,59.0 50.0,56.3 49.0,53.8"/>
<path d="M77.0,208.1 78.0,207.6"/>
<path d="M30.9,246.0 33.5,243.3 37.5,242.3"/>
<path d="M11.7,266.0 14.0,263.5 12.5,261.1 11.0,260.0"/>
<path d="M73.5,63.4 65.5,62.9 61.5,61.8"/>
<path d="M11.0,254.2 12.5,252.1 14.6,252.5"/>
<path d="M32.8,246.0 34.0,245.6"/>
<path d="M13.9,266.0 16.0,264.4"/>
<path d="M15.7,262.0 14.0,260.0 11.0,258.4"/>
<path d="M11.0,256.3 14.5,253.8"/>
<path d="M16.5,260.5 15.5,259.2 11.0,256.6"/>
</g>
<path d="M71.0,25.0 C71.2,21.7 70.5,17.5 72.0,15.0 C73.5,12.5 76.2,11.0 80.0,10.0 C83.8,9.0 90.3,8.8 95.0,9.0 C99.7,9.2 104.8,9.2 108.0,11.0 C111.2,12.8 113.2,16.5 114.0,20.0 C114.8,23.5 113.7,28.7 113.0,32.0 C112.3,35.3 111.5,37.8 110.0,40.0 C108.5,42.2 107.3,44.0 104.0,45.0 C100.7,46.0 94.7,46.3 90.0,46.0 C85.3,45.7 79.2,44.8 76.0,43.0 C72.8,41.2 71.8,38.0 71.0,35.0 C70.2,32.0 70.8,28.3 71.0,25.0 Z" fill="#36e4f8"/>
<path d="M75.0,24.0 C75.5,21.5 75.5,17.8 78.0,16.0 C80.5,14.2 85.7,13.3 90.0,13.0 C94.3,12.7 100.7,12.5 104.0,14.0 C107.3,15.5 109.2,18.8 110.0,22.0 C110.8,25.2 110.0,30.2 109.0,33.0 C108.0,35.8 107.2,37.7 104.0,39.0 C100.8,40.3 94.2,41.2 90.0,41.0 C85.8,40.8 81.5,39.7 79.0,38.0 C76.5,36.3 75.7,33.3 75.0,31.0 C74.3,28.7 74.5,26.5 75.0,24.0 Z" fill="#5cd0f4"/>
<path d="M103.0,40.0 C103.7,38.8 106.5,37.3 108.0,37.0 C109.5,36.7 111.3,36.5 112.0,38.0 C112.7,39.5 111.3,43.8 112.0,46.0 C112.7,48.2 116.7,49.8 116.0,51.0 C115.3,52.2 109.5,53.7 108.0,53.0 C106.5,52.3 107.7,48.5 107.0,47.0 C106.3,45.5 104.7,45.2 104.0,44.0 C103.3,42.8 102.3,41.2 103.0,40.0 Z" fill="#36e4f8"/>
<path d="M86.8,80.0 L89.3,70.0 L95.0,63.7 L100.8,60.1 L105.1,56.5 L107.2,52.2 L106.5,46.5 L104.0,43.5 L108.0,41.0 L110.5,41.5 L111.5,46.5 L116.5,50.8 L125.1,52.9 L135.0,53.6 L145.0,54.5 L157.0,56.0 L162.7,58.0 L166.7,61.5 L169.6,66.8 L170.6,74.7 L170.6,84.5 L168.6,91.4 L166.7,94.4 L170.6,97.3 L178.5,100.3 L186.3,99.3 L195.0,97.3 L203.1,94.2 L217.4,93.6 L231.8,93.6 L246.1,95.0 L257.6,97.9 L263.3,100.8 L267.6,107.9 L269.0,116.5 L270.5,125.1 L266.2,132.3 L263.3,136.6 L267.6,140.0 L275.1,147.5 L282.6,153.8 L290.2,156.3 L300.2,157.6 L310.0,157.5 L338.0,156.0 L338.0,266.0 L338.0,300.0 L124.0,300.0 L124.0,266.0 L123.0,245.0 L121.5,225.0 L121.5,210.0 L118.3,199.4 L116.2,193.0 L112.9,189.7 L106.5,188.7 L97.9,185.4 L90.4,181.1 L87.2,175.8 L82.9,169.3 L76.4,162.9 L72.0,158.0 L74.4,150.0 L75.0,142.0 L78.7,134.3 L85.0,128.0 L90.0,122.0 L91.8,115.0 L88.0,105.0 L86.8,92.5 Z" fill="#36e4f8" stroke="#36e4f8" stroke-width="1.2" stroke-linejoin="round"/>
<path d="M90.0,92.3 L91.1,104.3 L94.8,113.9 L94.9,115.8 L92.8,123.6 L87.5,130.0 L81.3,136.2 L78.1,142.8 L77.5,150.6 L75.6,157.2 L85.4,167.3 L92.7,178.7 L99.3,182.5 L107.3,185.6 L114.3,186.8 L119.1,191.7 L124.7,209.7 L124.7,224.9 L126.2,244.8 L127.2,270.0 L334.8,270.0 L334.8,159.4 L310.2,160.7 L300.2,160.8 L289.5,159.4 L280.8,156.4 L273.0,150.0 L260.4,137.9 L260.1,136.6 L260.5,135.1 L267.1,124.5 L264.5,109.0 L261.0,103.2 L256.5,100.9 L245.5,98.2 L231.6,96.8 L217.5,96.8 L203.8,97.4 L195.7,100.4 L187.0,102.4 L178.9,103.5 L177.4,103.3 L168.9,100.0 L164.5,96.8 L163.7,95.4 L163.7,93.3 L165.7,90.1 L167.4,84.0 L167.4,74.9 L166.5,67.8 L164.2,63.5 L161.1,60.8 L156.3,59.1 L144.7,57.7 L124.3,56.0 L115.2,53.7 L110.1,49.5 L110.3,53.0 L107.6,58.5 L102.9,62.6 L97.1,66.2 L92.2,71.6 L90.0,80.4 Z " fill="#48dcf8" fill-rule="evenodd"/>
<path d="M95.0,70.0 C96.7,67.3 99.2,65.7 102.0,64.0 C104.8,62.3 108.2,61.0 112.0,60.0 C115.8,59.0 120.0,58.0 125.0,58.0 C130.0,58.0 136.5,59.0 142.0,60.0 C147.5,61.0 154.2,61.7 158.0,64.0 C161.8,66.3 164.2,70.3 165.0,74.0 C165.8,77.7 165.2,82.3 163.0,86.0 C160.8,89.7 156.7,93.0 152.0,96.0 C147.3,99.0 141.2,101.7 135.0,104.0 C128.8,106.3 121.2,109.3 115.0,110.0 C108.8,110.7 101.7,110.5 98.0,108.0 C94.3,105.5 94.0,99.7 93.0,95.0 C92.0,90.3 91.7,84.2 92.0,80.0 C92.3,75.8 93.3,72.7 95.0,70.0 Z" fill="#3ed0f8"/>
<path d="M103.7,63.3 C107.3,60.8 115.2,59.7 120.5,60.2 C125.8,60.7 131.4,63.8 135.7,66.3 C140.0,68.8 144.9,71.9 146.4,75.5 C147.9,79.1 146.7,83.9 144.9,87.7 C143.1,91.5 139.8,95.6 135.7,98.4 C131.6,101.2 125.6,104.0 120.5,104.5 C115.4,105.0 108.5,103.7 105.2,101.4 C101.9,99.1 101.7,95.0 100.7,90.7 C99.7,86.4 98.6,80.1 99.1,75.5 C99.6,70.9 100.1,65.8 103.7,63.3 Z" fill="#3ac0f8"/>
<path d="M103.7,63.3 C107.3,60.8 115.2,59.7 120.5,60.2 C125.8,60.7 131.4,63.8 135.7,66.3 C140.0,68.8 144.9,71.9 146.4,75.5 C147.9,79.1 146.7,83.9 144.9,87.7 C143.1,91.5 139.8,95.6 135.7,98.4 C131.6,101.2 125.6,104.0 120.5,104.5 C115.4,105.0 108.5,103.7 105.2,101.4 C101.9,99.1 101.7,95.0 100.7,90.7 C99.7,86.4 98.6,80.1 99.1,75.5 C99.6,70.9 100.1,65.8 103.7,63.3 Z" fill="none" stroke="#1a2a40" stroke-width="0.6"/>
<path d="M108.0,128.0 C111.3,123.3 114.7,123.8 120.0,122.0 C125.3,120.2 133.3,118.5 140.0,117.0 C146.7,115.5 153.7,114.0 160.0,113.0 C166.3,112.0 172.2,111.7 178.0,111.0 C183.8,110.3 188.8,109.7 195.0,109.0 C201.2,108.3 208.3,107.3 215.0,107.0 C221.7,106.7 229.2,106.5 235.0,107.0 C240.8,107.5 246.2,108.5 250.0,110.0 C253.8,111.5 256.2,113.7 258.0,116.0 C259.8,118.3 261.2,121.3 261.0,124.0 C260.8,126.7 257.8,129.5 257.0,132.0 C256.2,134.5 255.0,136.7 256.0,139.0 C257.0,141.3 260.2,143.7 263.0,146.0 C265.8,148.3 269.2,150.7 273.0,153.0 C276.8,155.3 281.5,158.3 286.0,160.0 C290.5,161.7 291.3,162.5 300.0,163.0 C308.7,163.5 331.7,145.8 338.0,163.0 C344.3,180.2 373.3,248.8 338.0,266.0 C302.7,283.2 162.7,278.7 126.0,266.0 C89.3,253.3 121.7,205.0 118.0,190.0 C114.3,175.0 107.0,182.7 104.0,176.0 C101.0,169.3 99.3,158.0 100.0,150.0 C100.7,142.0 104.7,132.7 108.0,128.0 Z" fill="#46d2f8"/>
<path d="M126.5,266.0 C91.2,260.0 126.2,239.3 126.0,230.0 C125.8,220.7 125.7,215.8 125.1,210.0 C124.5,204.2 123.4,198.9 122.6,195.2 C121.8,191.5 121.0,189.7 120.0,187.6 C119.0,185.5 117.8,184.7 116.3,182.6 C114.8,180.5 112.5,178.0 111.3,175.1 C110.0,172.2 109.4,168.0 108.8,165.1 C108.2,162.2 108.1,159.9 107.5,157.6 C106.9,155.3 105.6,153.4 105.0,151.3 C104.4,149.2 103.7,147.6 104.0,145.0 C104.3,142.4 105.3,138.5 107.0,136.0 C108.7,133.5 110.8,131.5 114.0,130.0 C117.2,128.5 121.2,127.3 126.0,127.0 C130.8,126.7 137.7,128.2 142.9,128.0 C148.1,127.8 151.9,126.8 157.2,125.7 C162.4,124.6 167.7,123.2 174.4,121.4 C181.1,119.6 188.7,116.6 197.3,115.1 C205.9,113.6 218.8,112.0 226.0,112.2 C233.2,112.4 237.1,114.3 240.4,116.5 C243.8,118.7 244.2,122.3 246.1,125.1 C248.0,127.8 250.0,130.5 252.0,133.0 C254.0,135.5 255.4,137.6 258.0,140.0 C260.6,142.4 263.9,144.6 267.6,147.5 C271.3,150.4 275.9,155.1 280.1,157.6 C284.3,160.1 288.5,161.6 292.7,162.6 C296.9,163.6 297.6,163.4 305.2,163.8 C312.8,164.2 332.5,148.0 338.0,165.0 C343.5,182.0 373.2,249.2 338.0,266.0 C302.8,282.8 161.8,272.0 126.5,266.0 Z" fill="#42baf8"/>
<path d="M128.2,266.0 C93.3,265.2 128.2,262.8 128.2,261.2 C128.2,259.7 128.1,258.1 128.1,256.5 C128.1,254.9 128.1,253.3 128.1,251.7 C128.0,250.1 128.0,248.5 128.0,247.0 C128.0,245.4 127.9,243.8 127.9,242.2 C127.9,240.6 127.9,239.0 127.9,237.4 C127.8,235.8 127.8,234.3 127.8,232.7 C127.8,231.1 127.7,229.5 127.7,227.9 C127.6,226.3 127.5,224.7 127.5,223.2 C127.4,221.6 127.3,220.0 127.3,218.4 C127.2,216.8 127.2,215.2 127.1,213.6 C127.0,212.1 126.9,210.5 126.7,208.9 C126.5,207.3 126.3,205.8 126.0,204.2 C125.8,202.6 125.6,201.0 125.3,199.5 C125.1,197.9 124.8,196.4 124.4,194.8 C124.1,193.3 123.8,191.7 123.3,190.2 C122.8,188.7 122.1,187.4 121.4,186.0 C120.7,184.6 119.9,183.2 119.2,181.8 C118.4,180.4 117.7,179.0 117.0,177.6 C116.3,176.2 115.6,174.8 115.0,173.4 C114.4,172.0 113.7,170.5 113.1,169.1 C112.6,167.6 112.1,166.1 111.7,164.6 C111.2,163.1 110.7,161.6 110.3,160.1 C109.9,158.6 109.3,157.1 109.0,155.5 C108.7,154.0 108.5,152.4 108.4,150.8 C108.4,149.3 108.4,147.7 108.7,146.1 C109.0,144.6 109.4,143.1 110.2,141.7 C110.9,140.4 112.0,139.2 113.1,138.1 C114.3,137.1 115.6,136.2 117.0,135.6 C118.3,134.9 120.0,134.6 121.5,134.3 C123.0,134.0 124.6,133.7 126.1,133.6 C127.7,133.4 129.3,133.5 130.8,133.6 C132.4,133.6 134.0,133.9 135.5,134.1 C137.1,134.2 138.7,134.4 140.3,134.6 C141.9,134.7 143.4,134.9 145.0,135.0 C146.6,135.1 148.2,135.0 149.7,135.0 C151.3,135.0 152.9,135.0 154.4,135.0 C156.0,135.0 157.6,135.1 159.1,135.0 C160.7,135.0 162.2,135.0 163.8,134.9 C165.3,134.9 166.9,134.8 168.4,134.8 C169.9,134.7 171.5,134.7 173.0,134.6 C174.6,134.6 176.1,134.5 177.7,134.5 C179.2,134.4 180.8,134.3 182.2,134.4 C183.7,134.5 185.1,135.0 186.5,135.1 C187.9,135.2 189.4,135.3 190.8,135.0 C192.2,134.7 193.8,133.8 195.0,133.1 C196.3,132.4 197.0,131.2 198.3,130.5 C199.5,129.9 201.0,129.4 202.5,129.1 C204.0,128.9 205.7,129.1 207.2,129.1 C208.8,129.1 210.4,129.1 212.0,129.2 C213.5,129.3 215.0,129.6 216.6,129.7 C218.1,129.9 219.7,130.0 221.2,130.3 C222.7,130.6 224.2,131.0 225.7,131.5 C227.2,131.9 228.7,132.5 230.2,133.0 C231.7,133.5 233.3,133.9 234.7,134.6 C236.1,135.2 237.4,136.1 238.6,137.0 C239.8,137.9 240.9,138.9 242.1,139.9 C243.3,140.9 244.4,141.8 245.6,142.8 C246.8,143.7 248.0,144.7 249.2,145.6 C250.5,146.5 251.7,147.3 253.0,148.2 C254.2,149.0 255.5,149.9 256.8,150.7 C258.1,151.5 259.5,152.3 260.8,153.0 C262.2,153.7 263.6,154.4 265.0,155.1 C266.4,155.8 267.8,156.4 269.2,157.1 C270.5,157.8 271.9,158.5 273.3,159.2 C274.7,159.9 276.1,160.6 277.5,161.3 C278.8,162.1 280.2,162.9 281.6,163.5 C283.0,164.1 284.6,164.5 286.1,165.0 C287.6,165.4 289.1,165.9 290.6,166.3 C292.2,166.7 293.7,167.2 295.2,167.4 C296.8,167.7 298.4,167.8 300.0,167.9 C301.5,168.1 303.1,168.2 304.7,168.3 C306.3,168.4 307.9,168.5 309.5,168.6 C311.1,168.7 312.6,168.7 314.2,168.8 C315.8,168.9 317.4,169.0 319.0,169.1 C320.6,169.1 322.1,169.2 323.7,169.3 C325.3,169.4 326.9,169.5 328.5,169.5 C330.1,169.6 331.7,169.7 333.2,169.8 C334.8,169.8 337.2,154.0 338.0,170.0 C338.8,186.0 373.0,250.0 338.0,266.0 C303.0,282.0 163.2,266.8 128.2,266.0 Z" fill="#3eaef8"/>
<path d="M130.0,266.0 C95.2,260.0 129.7,239.3 129.5,230.0 C129.3,220.7 129.3,216.6 128.8,210.0 C128.3,203.4 127.3,195.2 126.3,190.2 C125.3,185.2 124.1,183.0 122.6,180.1 C121.1,177.2 119.0,175.1 117.5,172.6 C116.0,170.1 114.6,167.6 113.8,165.1 C113.0,162.6 112.7,160.5 112.5,157.6 C112.3,154.7 111.6,150.3 112.5,147.5 C113.4,144.7 115.4,142.4 118.0,141.0 C120.6,139.6 124.3,139.0 128.0,139.0 C131.7,139.0 135.6,140.3 140.0,141.0 C144.4,141.7 149.5,142.1 154.3,142.9 C159.1,143.7 163.9,144.8 168.7,145.8 C173.5,146.8 179.4,147.4 183.0,148.7 C186.6,150.0 188.2,153.2 190.1,153.6 C192.0,154.0 193.5,152.7 194.7,151.3 C195.8,150.0 196.2,146.8 197.0,145.5 C197.8,144.2 197.4,143.9 199.3,143.8 C201.2,143.7 205.1,143.9 208.6,144.8 C212.1,145.7 216.3,147.5 220.2,149.0 C224.1,150.5 227.3,151.8 231.9,153.6 C236.5,155.4 243.1,158.3 247.8,160.0 C252.6,161.7 255.8,162.6 260.4,163.8 C265.0,165.1 270.4,166.2 275.4,167.5 C280.4,168.8 286.4,170.5 290.5,171.3 C294.6,172.2 292.1,172.0 300.0,172.6 C307.9,173.2 331.7,159.4 338.0,175.0 C344.3,190.6 372.7,250.8 338.0,266.0 C303.3,281.2 164.8,272.0 130.0,266.0 Z" fill="#3aa0f8"/>
<path d="M222.0,170.0 C225.0,168.7 232.8,168.0 240.0,168.0 C247.2,168.0 256.7,168.8 265.0,170.0 C273.3,171.2 277.8,173.7 290.0,175.0 C302.2,176.3 330.0,176.2 338.0,178.0 C346.0,179.8 344.3,185.0 338.0,186.0 C331.7,187.0 312.2,185.0 300.0,184.0 C287.8,183.0 275.0,181.0 265.0,180.0 C255.0,179.0 247.2,178.7 240.0,178.0 C232.8,177.3 225.0,177.3 222.0,176.0 C219.0,174.7 219.0,171.3 222.0,170.0 Z" fill="#46b0f8"/>
<path d="M132.0,266.0 C97.7,265.2 132.0,263.0 131.9,261.4 C131.9,259.9 131.9,258.4 131.9,256.9 C131.9,255.3 131.8,253.8 131.8,252.3 C131.8,250.8 131.8,249.3 131.7,247.7 C131.7,246.2 131.7,244.7 131.7,243.2 C131.7,241.6 131.6,240.1 131.6,238.6 C131.6,237.1 131.6,235.6 131.6,234.0 C131.5,232.5 131.5,231.0 131.5,229.5 C131.4,228.0 131.4,226.4 131.3,224.9 C131.2,223.4 131.2,221.9 131.1,220.3 C131.1,218.8 131.0,217.3 130.9,215.8 C130.9,214.3 130.9,212.7 130.8,211.2 C130.6,209.7 130.5,208.2 130.3,206.7 C130.2,205.2 130.0,203.7 129.8,202.1 C129.6,200.6 129.5,199.1 129.3,197.6 C129.1,196.1 128.8,194.6 128.5,193.1 C128.3,191.6 128.0,190.1 127.6,188.7 C127.2,187.2 126.8,185.7 126.3,184.3 C125.8,182.9 125.1,181.5 124.4,180.1 C123.7,178.8 122.9,177.5 122.1,176.2 C121.4,174.9 120.6,173.6 119.8,172.3 C119.1,170.9 118.4,169.6 117.8,168.2 C117.2,166.8 116.6,165.4 116.2,163.9 C115.8,162.5 115.3,161.0 115.2,159.5 C115.0,158.0 115.2,156.5 115.3,155.0 C115.4,153.5 115.2,151.8 115.6,150.4 C116.0,149.0 116.8,147.8 117.7,146.7 C118.5,145.6 119.7,144.4 120.9,143.7 C122.2,143.1 123.7,143.0 125.1,142.7 C126.6,142.5 128.2,142.3 129.7,142.3 C131.2,142.2 132.7,142.3 134.1,142.5 C135.6,142.7 137.1,143.1 138.6,143.3 C140.1,143.6 141.7,143.8 143.1,144.1 C144.6,144.5 146.1,144.8 147.5,145.2 C149.0,145.6 150.3,146.2 151.8,146.7 C153.2,147.1 154.6,147.6 156.0,148.1 C157.4,148.6 158.9,149.0 160.2,149.6 C161.6,150.2 162.9,150.9 164.2,151.5 C165.5,152.2 166.8,152.9 168.1,153.5 C169.4,154.2 170.7,154.9 172.0,155.5 C173.3,156.2 174.6,157.0 175.9,157.5 C177.3,158.1 178.8,158.5 180.2,159.0 C181.6,159.5 183.1,160.0 184.4,160.6 C185.8,161.3 187.1,162.3 188.4,163.0 C189.7,163.6 191.0,164.4 192.2,164.7 C193.5,165.0 194.8,165.0 195.9,164.8 C197.0,164.6 197.7,163.9 198.8,163.7 C199.9,163.4 201.3,163.3 202.6,163.5 C203.9,163.7 205.4,164.5 206.7,165.1 C208.1,165.6 209.4,166.2 210.7,166.9 C212.0,167.6 213.3,168.4 214.5,169.2 C215.8,170.0 217.0,170.9 218.3,171.6 C219.6,172.3 221.0,172.9 222.4,173.4 C223.8,173.8 225.3,174.2 226.8,174.5 C228.2,174.8 229.7,175.1 231.1,175.3 C232.6,175.5 234.1,175.6 235.5,175.8 C237.0,176.0 238.4,176.2 239.9,176.3 C241.3,176.4 242.8,176.6 244.2,176.6 C245.6,176.7 247.0,176.5 248.4,176.6 C249.9,176.7 251.4,177.0 252.8,177.3 C254.3,177.6 255.8,178.1 257.2,178.4 C258.7,178.8 260.2,179.2 261.7,179.5 C263.2,179.9 264.6,180.2 266.1,180.6 C267.6,181.0 269.1,181.3 270.5,181.7 C272.0,182.1 273.5,182.4 275.0,182.8 C276.5,183.2 277.9,183.5 279.4,183.9 C280.9,184.3 282.4,184.7 283.8,185.1 C285.3,185.5 286.8,185.9 288.2,186.2 C289.7,186.6 291.2,187.0 292.7,187.3 C294.2,187.6 295.7,187.8 297.2,188.1 C298.7,188.4 300.2,188.7 301.7,188.9 C303.2,189.1 304.7,189.3 306.2,189.6 C307.7,189.8 309.2,190.0 310.7,190.2 C312.2,190.3 313.7,190.4 315.2,190.5 C316.7,190.6 318.3,190.7 319.8,190.8 C321.3,190.9 322.8,191.0 324.3,191.1 C325.9,191.2 327.4,191.3 328.9,191.4 C330.4,191.5 331.9,191.6 333.4,191.7 C335.0,191.8 337.2,179.6 338.0,192.0 C338.8,204.4 372.3,253.7 338.0,266.0 C303.7,278.3 166.3,266.8 132.0,266.0 Z" fill="#3a8af8"/>
<path d="M134.0,266.0 C99.9,260.0 133.7,239.3 133.5,230.0 C133.3,220.7 133.0,215.4 132.6,210.0 C132.2,204.6 131.9,201.8 131.3,197.7 C130.7,193.5 130.1,188.9 128.8,185.1 C127.6,181.3 125.3,178.0 123.8,175.1 C122.3,172.2 121.0,170.1 120.0,167.6 C119.0,165.1 117.7,163.0 117.5,160.1 C117.3,157.2 117.7,152.5 118.8,150.0 C119.9,147.5 121.3,145.8 124.0,145.0 C126.7,144.2 130.7,144.5 135.0,145.0 C139.3,145.5 145.2,146.2 150.0,148.0 C154.8,149.8 159.5,152.7 164.0,156.0 C168.5,159.3 172.7,164.9 177.0,168.0 C181.3,171.1 186.7,172.6 190.0,174.5 C193.3,176.4 194.3,177.6 197.0,179.2 C199.7,180.8 203.6,182.1 206.3,183.8 C209.0,185.6 211.0,187.6 213.3,189.7 C215.6,191.8 217.5,195.2 220.2,196.6 C222.9,197.9 225.6,198.0 229.5,197.8 C233.4,197.6 240.0,196.3 243.5,195.5 C247.0,194.7 247.1,192.8 250.3,192.7 C253.5,192.6 258.3,194.2 262.9,195.2 C267.5,196.2 272.9,197.6 277.9,198.9 C282.9,200.2 287.6,201.7 293.0,203.0 C298.4,204.3 302.5,206.0 310.0,207.0 C317.5,208.0 333.3,199.2 338.0,209.0 C342.7,218.8 372.0,256.5 338.0,266.0 C304.0,275.5 168.1,272.0 134.0,266.0 Z" fill="#3a6ef0"/>
<path d="M136.5,266.0 C102.9,265.2 136.5,263.0 136.4,261.4 C136.4,259.9 136.4,258.4 136.4,256.9 C136.4,255.3 136.3,253.8 136.3,252.3 C136.3,250.8 136.3,249.2 136.2,247.7 C136.2,246.2 136.2,244.7 136.2,243.2 C136.2,241.6 136.1,240.1 136.1,238.6 C136.1,237.1 136.1,235.5 136.1,234.0 C136.0,232.5 136.0,231.0 136.0,229.4 C135.9,227.9 135.8,226.4 135.8,224.9 C135.7,223.4 135.6,221.8 135.6,220.3 C135.5,218.8 135.4,217.3 135.4,215.8 C135.3,214.2 135.2,212.7 135.2,211.2 C135.1,209.7 134.9,208.1 134.8,206.6 C134.7,205.1 134.6,203.6 134.4,202.1 C134.3,200.6 134.2,199.0 134.0,197.5 C133.9,196.0 133.7,194.5 133.5,193.0 C133.2,191.5 133.0,190.0 132.7,188.5 C132.4,187.0 132.2,185.5 131.8,184.0 C131.4,182.6 130.9,181.1 130.3,179.8 C129.7,178.4 129.0,177.0 128.3,175.7 C127.5,174.4 126.7,173.1 126.0,171.8 C125.2,170.4 124.5,169.1 123.8,167.7 C123.2,166.3 122.5,165.0 122.1,163.5 C121.6,162.1 121.3,160.6 121.1,159.1 C121.0,157.6 121.1,156.1 121.2,154.6 C121.2,153.1 121.0,151.4 121.4,150.0 C121.8,148.6 122.6,147.1 123.5,146.2 C124.4,145.3 125.5,144.7 126.8,144.6 C128.0,144.6 129.6,145.4 131.0,145.8 C132.5,146.2 133.9,146.5 135.3,147.0 C136.7,147.4 138.0,148.0 139.4,148.6 C140.8,149.2 142.2,149.7 143.6,150.3 C144.9,150.9 146.4,151.4 147.7,152.0 C149.0,152.7 150.4,153.4 151.6,154.2 C152.9,155.0 154.0,156.0 155.2,156.9 C156.5,157.8 157.7,158.7 158.9,159.6 C160.1,160.5 161.3,161.4 162.5,162.4 C163.7,163.3 164.7,164.4 165.9,165.5 C167.0,166.5 168.1,167.6 169.2,168.6 C170.3,169.7 171.4,170.7 172.5,171.8 C173.5,172.8 174.6,174.0 175.7,174.9 C176.9,175.9 178.3,176.6 179.6,177.4 C180.8,178.2 182.1,179.0 183.4,179.8 C184.7,180.6 186.0,181.4 187.3,182.2 C188.6,183.0 189.9,183.7 191.2,184.6 C192.4,185.4 193.6,186.5 194.8,187.4 C196.0,188.3 197.2,189.2 198.5,190.0 C199.7,190.8 201.1,191.5 202.4,192.2 C203.7,193.0 205.0,193.8 206.3,194.6 C207.6,195.4 208.8,196.3 210.1,197.1 C211.3,197.8 212.6,198.5 213.9,199.1 C215.2,199.8 216.5,200.3 217.8,200.7 C219.2,201.2 220.6,201.5 222.0,201.7 C223.5,201.8 225.1,201.7 226.6,201.6 C228.1,201.6 229.6,201.4 231.1,201.2 C232.6,201.0 234.1,200.4 235.5,200.4 C237.0,200.4 238.4,201.0 239.7,201.2 C241.1,201.5 242.5,201.8 243.9,201.9 C245.3,202.0 246.6,201.9 248.1,202.0 C249.5,202.1 251.0,202.3 252.5,202.6 C254.0,202.8 255.4,203.3 256.9,203.5 C258.4,203.8 260.0,203.9 261.5,204.2 C263.0,204.4 264.5,204.6 266.0,204.9 C267.5,205.1 269.0,205.3 270.5,205.6 C271.9,205.9 273.4,206.3 274.9,206.6 C276.4,207.0 277.8,207.4 279.3,207.8 C280.8,208.2 282.3,208.6 283.7,208.9 C285.2,209.3 286.7,209.7 288.2,210.0 C289.7,210.3 291.2,210.7 292.6,211.0 C294.1,211.3 295.6,211.6 297.1,211.9 C298.6,212.2 300.1,212.5 301.6,212.7 C303.1,212.9 304.6,213.0 306.1,213.1 C307.6,213.3 309.1,213.4 310.6,213.5 C312.1,213.6 313.7,213.7 315.2,213.8 C316.7,213.9 318.2,213.9 319.8,214.0 C321.3,214.1 322.8,214.2 324.3,214.3 C325.8,214.3 327.4,214.4 328.9,214.5 C330.4,214.6 331.9,214.7 333.4,214.8 C335.0,214.8 337.2,206.5 338.0,215.0 C338.8,223.5 371.6,257.5 338.0,266.0 C304.4,274.5 170.1,266.8 136.5,266.0 Z" fill="#3850f0"/>
<path d="M139.0,266.0 C105.8,260.0 138.7,239.3 138.5,230.0 C138.3,220.7 138.0,216.6 137.6,210.0 C137.2,203.4 136.9,195.6 136.3,190.2 C135.7,184.8 135.1,180.9 133.8,177.6 C132.6,174.2 130.2,172.6 128.8,170.1 C127.4,167.6 125.9,165.9 125.1,162.6 C124.3,159.2 123.6,153.3 123.8,150.0 C124.0,146.7 124.4,143.3 126.3,143.0 C128.2,142.7 131.1,145.5 135.0,148.0 C138.9,150.5 145.0,153.9 150.0,158.0 C155.0,162.1 161.0,168.5 165.2,172.6 C169.4,176.7 171.9,179.7 175.2,182.6 C178.5,185.5 182.5,188.5 185.0,190.2 C187.5,191.9 187.9,191.3 190.0,193.0 C192.1,194.7 194.2,197.9 197.5,200.2 C200.8,202.4 205.9,205.4 210.1,206.5 C214.3,207.6 218.5,206.9 222.7,206.5 C226.9,206.1 231.4,203.4 235.2,204.0 C239.0,204.6 242.0,208.8 245.3,210.3 C248.7,211.8 251.1,212.2 255.3,212.8 C259.5,213.4 265.4,213.2 270.4,214.0 C275.4,214.8 280.6,216.8 285.5,217.8 C290.4,218.9 295.9,219.9 300.0,220.3 C304.1,220.7 303.7,219.9 310.0,220.0 C316.3,220.1 333.3,213.3 338.0,221.0 C342.7,228.7 371.2,258.5 338.0,266.0 C304.8,273.5 172.2,272.0 139.0,266.0 Z" fill="#3836ee"/>
<path d="M147.0,266.0 C115.1,260.0 146.7,239.3 146.5,230.0 C146.3,220.7 146.2,216.7 146.0,210.0 C145.8,203.3 145.6,194.8 145.0,190.0 C144.4,185.2 144.0,184.3 142.6,181.4 C141.2,178.5 138.0,175.3 136.3,172.6 C134.6,169.9 133.5,167.7 132.6,165.1 C131.7,162.5 130.8,159.2 131.0,157.0 C131.2,154.8 132.2,152.2 134.0,152.0 C135.8,151.8 139.0,153.7 142.0,156.0 C145.0,158.3 148.5,162.3 152.0,166.0 C155.5,169.7 159.6,174.7 162.9,178.0 C166.2,181.3 169.0,183.0 172.0,186.0 C175.0,189.0 177.3,192.0 180.9,196.0 C184.5,200.0 189.4,206.3 193.7,210.0 C197.9,213.7 201.7,216.0 206.4,218.0 C211.1,220.0 216.9,220.9 221.7,222.0 C226.5,223.1 230.3,223.8 235.0,224.5 C239.7,225.2 245.0,225.4 250.0,226.0 C255.0,226.6 260.0,227.3 265.0,228.0 C270.0,228.7 274.2,229.8 280.0,230.0 C285.8,230.2 295.0,229.8 300.0,229.5 C305.0,229.2 303.7,228.2 310.0,228.0 C316.3,227.8 333.3,221.7 338.0,228.0 C342.7,234.3 369.8,259.7 338.0,266.0 C306.2,272.3 178.9,272.0 147.0,266.0 Z" fill="#3636cc"/>
<path d="M152.0,266.0 C120.8,261.7 151.3,247.7 151.0,240.0 C150.7,232.3 150.2,225.8 150.0,220.0 C149.8,214.2 149.5,209.0 150.0,205.0 C150.5,201.0 151.3,198.1 153.0,196.0 C154.7,193.9 157.3,192.8 160.2,192.7 C163.1,192.6 166.9,193.1 170.2,195.2 C173.5,197.2 177.4,201.2 180.0,205.0 C182.6,208.8 183.1,214.1 185.5,218.0 C187.9,221.9 190.9,226.3 194.6,228.7 C198.2,231.1 203.1,231.5 207.4,232.4 C211.7,233.3 215.6,233.4 220.2,234.2 C224.8,234.9 229.9,236.1 234.8,236.9 C239.7,237.7 245.2,238.2 249.5,238.8 C253.8,239.4 256.8,239.6 260.4,240.6 C263.9,241.6 266.8,244.4 270.8,245.0 C274.8,245.6 279.9,244.7 284.4,244.4 C288.9,244.1 293.7,243.6 298.0,243.1 C302.3,242.6 303.3,242.0 310.0,241.7 C316.7,241.3 333.3,236.9 338.0,241.0 C342.7,245.1 369.0,261.8 338.0,266.0 C307.0,270.2 183.2,270.3 152.0,266.0 Z" fill="#3535a8"/>
<path d="M155.5,266.0 C125.1,262.6 155.1,251.4 155.5,245.9 C155.9,240.4 156.3,235.9 158.0,233.2 C159.7,230.4 162.7,229.8 165.7,229.4 C168.7,229.0 173.4,229.8 175.8,230.7 C178.2,231.6 177.8,233.6 180.0,235.1 C182.2,236.6 185.4,238.2 189.1,239.7 C192.8,241.2 197.3,243.1 201.9,244.3 C206.5,245.5 211.7,246.2 216.6,247.0 C221.5,247.8 226.3,248.2 231.2,248.8 C236.1,249.4 240.9,250.0 245.8,250.6 C250.7,251.2 254.7,251.9 260.4,252.5 C266.1,253.1 271.7,254.1 280.0,254.3 C288.3,254.6 300.3,254.1 310.0,254.0 C319.7,253.9 333.3,252.0 338.0,254.0 C342.7,256.0 368.4,264.0 338.0,266.0 C307.6,268.0 185.9,269.4 155.5,266.0 Z" fill="#34349a"/>
<path d="M165.0,266.0 C137.0,264.0 167.5,256.9 170.0,254.0 C172.5,251.1 175.3,248.9 180.0,248.8 C184.7,248.7 190.7,252.2 198.3,253.4 C205.9,254.6 216.6,255.3 225.7,256.1 C234.8,256.9 244.0,257.5 253.1,258.0 C262.1,258.5 265.9,258.6 280.0,258.9 C294.1,259.2 328.3,258.8 338.0,260.0 C347.7,261.2 366.8,265.0 338.0,266.0 C309.2,267.0 193.0,268.0 165.0,266.0 Z" fill="#303074"/>
<path d="M126.5,266.0 C126.4,260.0 126.2,239.3 126.0,230.0 C125.8,220.7 125.7,215.8 125.1,210.0 C124.5,204.2 123.4,198.9 122.6,195.2 C121.8,191.5 121.0,189.7 120.0,187.6 C119.0,185.5 117.8,184.7 116.3,182.6 C114.8,180.5 112.5,178.0 111.3,175.1 C110.0,172.2 109.4,168.0 108.8,165.1 C108.2,162.2 108.1,159.9 107.5,157.6 C106.9,155.3 105.6,153.4 105.0,151.3 C104.4,149.2 103.7,147.6 104.0,145.0 C104.3,142.4 105.3,138.5 107.0,136.0 C108.7,133.5 110.8,131.5 114.0,130.0 C117.2,128.5 121.2,127.3 126.0,127.0 C130.8,126.7 137.7,128.2 142.9,128.0 C148.1,127.8 151.9,126.8 157.2,125.7 C162.4,124.6 167.7,123.2 174.4,121.4 C181.1,119.6 188.7,116.6 197.3,115.1 C205.9,113.6 218.8,112.0 226.0,112.2 C233.2,112.4 237.1,114.3 240.4,116.5 C243.8,118.7 244.2,122.3 246.1,125.1 C248.0,127.8 250.0,130.5 252.0,133.0 C254.0,135.5 255.4,137.6 258.0,140.0 C260.6,142.4 263.9,144.6 267.6,147.5 C271.3,150.4 275.9,155.1 280.1,157.6 C284.3,160.1 288.5,161.6 292.7,162.6 C296.9,163.6 297.6,163.4 305.2,163.8 C312.8,164.2 332.5,164.8 338.0,165.0" fill="none" stroke="#1a1a40" stroke-width="0.6" stroke-opacity="0.8"/>
<path d="M130.0,266.0 C129.9,260.0 129.7,239.3 129.5,230.0 C129.3,220.7 129.3,216.6 128.8,210.0 C128.3,203.4 127.3,195.2 126.3,190.2 C125.3,185.2 124.1,183.0 122.6,180.1 C121.1,177.2 119.0,175.1 117.5,172.6 C116.0,170.1 114.6,167.6 113.8,165.1 C113.0,162.6 112.7,160.5 112.5,157.6 C112.3,154.7 111.6,150.3 112.5,147.5 C113.4,144.7 115.4,142.4 118.0,141.0 C120.6,139.6 124.3,139.0 128.0,139.0 C131.7,139.0 135.6,140.3 140.0,141.0 C144.4,141.7 149.5,142.1 154.3,142.9 C159.1,143.7 163.9,144.8 168.7,145.8 C173.5,146.8 179.4,147.4 183.0,148.7 C186.6,150.0 188.2,153.2 190.1,153.6 C192.0,154.0 193.5,152.7 194.7,151.3 C195.8,150.0 196.2,146.8 197.0,145.5 C197.8,144.2 197.4,143.9 199.3,143.8 C201.2,143.7 205.1,143.9 208.6,144.8 C212.1,145.7 216.3,147.5 220.2,149.0 C224.1,150.5 227.3,151.8 231.9,153.6 C236.5,155.4 243.1,158.3 247.8,160.0 C252.6,161.7 255.8,162.6 260.4,163.8 C265.0,165.1 270.4,166.2 275.4,167.5 C280.4,168.8 286.4,170.5 290.5,171.3 C294.6,172.2 292.1,172.0 300.0,172.6 C307.9,173.2 331.7,174.6 338.0,175.0" fill="none" stroke="#1a1a40" stroke-width="0.6" stroke-opacity="0.8"/>
<path d="M134.0,266.0 C133.9,260.0 133.7,239.3 133.5,230.0 C133.3,220.7 133.0,215.4 132.6,210.0 C132.2,204.6 131.9,201.8 131.3,197.7 C130.7,193.5 130.1,188.9 128.8,185.1 C127.6,181.3 125.3,178.0 123.8,175.1 C122.3,172.2 121.0,170.1 120.0,167.6 C119.0,165.1 117.7,163.0 117.5,160.1 C117.3,157.2 117.7,152.5 118.8,150.0 C119.9,147.5 121.3,145.8 124.0,145.0 C126.7,144.2 130.7,144.5 135.0,145.0 C139.3,145.5 145.2,146.2 150.0,148.0 C154.8,149.8 159.5,152.7 164.0,156.0 C168.5,159.3 172.7,164.9 177.0,168.0 C181.3,171.1 186.7,172.6 190.0,174.5 C193.3,176.4 194.3,177.6 197.0,179.2 C199.7,180.8 203.6,182.1 206.3,183.8 C209.0,185.6 211.0,187.6 213.3,189.7 C215.6,191.8 217.5,195.2 220.2,196.6 C222.9,197.9 225.6,198.0 229.5,197.8 C233.4,197.6 240.0,196.3 243.5,195.5 C247.0,194.7 247.1,192.8 250.3,192.7 C253.5,192.6 258.3,194.2 262.9,195.2 C267.5,196.2 272.9,197.6 277.9,198.9 C282.9,200.2 287.6,201.7 293.0,203.0 C298.4,204.3 302.5,206.0 310.0,207.0 C317.5,208.0 333.3,208.7 338.0,209.0" fill="none" stroke="#1a1a40" stroke-width="0.6" stroke-opacity="0.8"/>
<path d="M139.0,266.0 C138.9,260.0 138.7,239.3 138.5,230.0 C138.3,220.7 138.0,216.6 137.6,210.0 C137.2,203.4 136.9,195.6 136.3,190.2 C135.7,184.8 135.1,180.9 133.8,177.6 C132.6,174.2 130.2,172.6 128.8,170.1 C127.4,167.6 125.9,165.9 125.1,162.6 C124.3,159.2 123.6,153.3 123.8,150.0 C124.0,146.7 124.4,143.3 126.3,143.0 C128.2,142.7 131.1,145.5 135.0,148.0 C138.9,150.5 145.0,153.9 150.0,158.0 C155.0,162.1 161.0,168.5 165.2,172.6 C169.4,176.7 171.9,179.7 175.2,182.6 C178.5,185.5 182.5,188.5 185.0,190.2 C187.5,191.9 187.9,191.3 190.0,193.0 C192.1,194.7 194.2,197.9 197.5,200.2 C200.8,202.4 205.9,205.4 210.1,206.5 C214.3,207.6 218.5,206.9 222.7,206.5 C226.9,206.1 231.4,203.4 235.2,204.0 C239.0,204.6 242.0,208.8 245.3,210.3 C248.7,211.8 251.1,212.2 255.3,212.8 C259.5,213.4 265.4,213.2 270.4,214.0 C275.4,214.8 280.6,216.8 285.5,217.8 C290.4,218.9 295.9,219.9 300.0,220.3 C304.1,220.7 303.7,219.9 310.0,220.0 C316.3,220.1 333.3,220.8 338.0,221.0" fill="none" stroke="#1a1a40" stroke-width="0.6" stroke-opacity="0.8"/>
<path d="M147.0,266.0 C146.9,260.0 146.7,239.3 146.5,230.0 C146.3,220.7 146.2,216.7 146.0,210.0 C145.8,203.3 145.6,194.8 145.0,190.0 C144.4,185.2 144.0,184.3 142.6,181.4 C141.2,178.5 138.0,175.3 136.3,172.6 C134.6,169.9 133.5,167.7 132.6,165.1 C131.7,162.5 130.8,159.2 131.0,157.0 C131.2,154.8 132.2,152.2 134.0,152.0 C135.8,151.8 139.0,153.7 142.0,156.0 C145.0,158.3 148.5,162.3 152.0,166.0 C155.5,169.7 159.6,174.7 162.9,178.0 C166.2,181.3 169.0,183.0 172.0,186.0 C175.0,189.0 177.3,192.0 180.9,196.0 C184.5,200.0 189.4,206.3 193.7,210.0 C197.9,213.7 201.7,216.0 206.4,218.0 C211.1,220.0 216.9,220.9 221.7,222.0 C226.5,223.1 230.3,223.8 235.0,224.5 C239.7,225.2 245.0,225.4 250.0,226.0 C255.0,226.6 260.0,227.3 265.0,228.0 C270.0,228.7 274.2,229.8 280.0,230.0 C285.8,230.2 295.0,229.8 300.0,229.5 C305.0,229.2 303.7,228.2 310.0,228.0 C316.3,227.8 333.3,228.0 338.0,228.0" fill="none" stroke="#1a1a40" stroke-width="0.6" stroke-opacity="0.8"/>
<path d="M152.0,266.0 C151.8,261.7 151.3,247.7 151.0,240.0 C150.7,232.3 150.2,225.8 150.0,220.0 C149.8,214.2 149.5,209.0 150.0,205.0 C150.5,201.0 151.3,198.1 153.0,196.0 C154.7,193.9 157.3,192.8 160.2,192.7 C163.1,192.6 166.9,193.1 170.2,195.2 C173.5,197.2 177.4,201.2 180.0,205.0 C182.6,208.8 183.1,214.1 185.5,218.0 C187.9,221.9 190.9,226.3 194.6,228.7 C198.2,231.1 203.1,231.5 207.4,232.4 C211.7,233.3 215.6,233.4 220.2,234.2 C224.8,234.9 229.9,236.1 234.8,236.9 C239.7,237.7 245.2,238.2 249.5,238.8 C253.8,239.4 256.8,239.6 260.4,240.6 C263.9,241.6 266.8,244.4 270.8,245.0 C274.8,245.6 279.9,244.7 284.4,244.4 C288.9,244.1 293.7,243.6 298.0,243.1 C302.3,242.6 303.3,242.0 310.0,241.7 C316.7,241.3 333.3,241.1 338.0,241.0" fill="none" stroke="#1a1a40" stroke-width="0.6" stroke-opacity="0.8"/>
<path d="M155.5,266.0 C155.5,262.6 155.1,251.4 155.5,245.9 C155.9,240.4 156.3,235.9 158.0,233.2 C159.7,230.4 162.7,229.8 165.7,229.4 C168.7,229.0 173.4,229.8 175.8,230.7 C178.2,231.6 177.8,233.6 180.0,235.1 C182.2,236.6 185.4,238.2 189.1,239.7 C192.8,241.2 197.3,243.1 201.9,244.3 C206.5,245.5 211.7,246.2 216.6,247.0 C221.5,247.8 226.3,248.2 231.2,248.8 C236.1,249.4 240.9,250.0 245.8,250.6 C250.7,251.2 254.7,251.9 260.4,252.5 C266.1,253.1 271.7,254.1 280.0,254.3 C288.3,254.6 300.3,254.1 310.0,254.0 C319.7,253.9 333.3,254.0 338.0,254.0" fill="none" stroke="#1a1a40" stroke-width="0.6" stroke-opacity="0.8"/>
<path d="M140.0,117.0 C143.3,116.3 153.7,114.0 160.0,113.0 C166.3,112.0 172.2,111.7 178.0,111.0 C183.8,110.3 188.8,109.7 195.0,109.0 C201.2,108.3 208.3,107.3 215.0,107.0 C221.7,106.7 230.0,106.2 235.0,107.0 C240.0,107.8 243.3,111.2 245.0,112.0" fill="none" stroke="#1a1a40" stroke-width="0.5" stroke-opacity="0.6"/>
</g>
<rect x="11.5" y="3.5" width="326" height="262" fill="none" stroke="#111" stroke-width="1"/>
<rect x="72.1" y="17.9" width="34.6" height="18.8" fill="#ffffff" fill-opacity="0.5"/>
<text x="89.5" y="25.9" font-size="8.7" font-weight="bold" fill="#000" text-anchor="middle" >Averno</text>
<text x="89.6" y="35.4" font-size="8.7" font-weight="bold" fill="#000" text-anchor="middle" >Lake</text>
<rect x="87.3" y="72" width="68.9" height="11.9" fill="#ffffff" fill-opacity="0.5"/>
<text x="89.4" y="81.4" font-size="8.7" font-weight="bold" fill="#000" text-anchor="start" >Lucrinus Lacus</text>
<rect x="141.8" y="104.3" width="28.5" height="18.9" fill="#ffffff" fill-opacity="0.5"/>
<text x="142.8" y="111.6" font-size="8.7" font-weight="bold" fill="#000" text-anchor="start" >Portus</text>
<text x="142.8" y="121" font-size="8.7" font-weight="bold" fill="#000" text-anchor="start" >Iulius</text>
<rect x="62.9" y="138" width="35.1" height="17.9" fill="#ffffff" fill-opacity="0.5"/>
<text x="64.3" y="145.1" font-size="8.7" font-weight="bold" fill="#000" text-anchor="start" >Baianus</text>
<text x="64.3" y="154.4" font-size="8.7" font-weight="bold" fill="#000" text-anchor="start" >Lacus</text>
<rect x="127.6" y="143.1" width="35.6" height="28.1" fill="#ffffff" fill-opacity="0.5"/>
<text x="129.5" y="151.2" font-size="8.7" font-weight="bold" fill="#000" text-anchor="start" >Secca</text>
<text x="129.5" y="160.3" font-size="8.7" font-weight="bold" fill="#000" text-anchor="start" >delle</text>
<text x="129.5" y="169.6" font-size="8.7" font-weight="bold" fill="#000" text-anchor="start" >Fumose</text>
<rect x="200.4" y="116.2" width="44.6" height="19" fill="#ffffff" fill-opacity="0.5"/>
<text x="201.6" y="123" font-size="8.7" font-weight="bold" fill="#000" text-anchor="start" >Roman</text>
<text x="201.6" y="132.6" font-size="8.7" font-weight="bold" fill="#000" text-anchor="start" >coast line</text>
<rect x="284.6" y="64.5" width="32.5" height="18.5" fill="#ffffff" fill-opacity="0.5"/>
<text x="301.2" y="72.6" font-size="8.7" font-weight="bold" fill="#000" text-anchor="middle" >Serapis</text>
<text x="301.2" y="81.4" font-size="8.7" font-weight="bold" fill="#000" text-anchor="middle" >Temple</text>
<g stroke="#000" stroke-width="0.8" fill="none">
<line x1="222" y1="116" x2="218.3" y2="97"/>
<line x1="294" y1="83.5" x2="296.5" y2="100"/>
<line x1="146" y1="143" x2="142.3" y2="130"/>
</g>
<path d="M217.6,93.2 L216.4,98.6 L220,97.9 Z" fill="#000"/>
<path d="M297,103.2 L294.6,98.6 L298.2,98.1 Z" fill="#000"/>
<path d="M141.6,126.8 L140.6,132.2 L144.1,131.2 Z" fill="#000"/>
<path d="M296.3,102.9 L300.1,106.9 L296.3,110.9 L292.5,106.9 Z" fill="#f0141e"/>
<line x1="165" y1="95.6" x2="177.6" y2="107.4" stroke="#1a2a22" stroke-width="1.6"/>
<line x1="167.5" y1="94.6" x2="179.5" y2="105.6" stroke="#1a2a22" stroke-width="0.6"/>
<path d="M103.2,131.3 C104.2,130.6 107.2,128.3 109.5,126.8 C111.8,125.3 114.3,123.6 116.7,122.3 C119.1,121.0 121.2,120.2 123.9,118.7 C126.6,117.2 129.8,115.2 132.8,113.3 C135.8,111.3 139.1,108.8 141.8,107.0 C144.5,105.2 146.3,104.1 149.0,102.6 C151.7,101.1 155.6,99.4 158.0,98.1 C160.4,96.8 161.9,95.5 163.3,94.5 C164.7,93.5 166.0,92.7 166.5,92.3" stroke="#f01414" stroke-width="2" fill="none"/>
<circle cx="158" cy="98.1" r="2.7" fill="none" stroke="#f4f000" stroke-width="1.5"/>
<circle cx="109.9" cy="126.8" r="2.7" fill="none" stroke="#f4f000" stroke-width="1.5"/>
<circle cx="100.3" cy="136.3" r="2.7" fill="none" stroke="#f4f000" stroke-width="1.5"/>
<circle cx="105.5" cy="144.7" r="2.7" fill="none" stroke="#f4f000" stroke-width="1.5"/>
<circle cx="93.5" cy="150.8" r="2.7" fill="none" stroke="#f4f000" stroke-width="1.5"/>
<text x="92.2" y="130.6" font-size="11.4" font-weight="bold" fill="#f01414" text-anchor="start" >A</text>
<text x="157.6" y="92.3" font-size="12.4" font-weight="bold" fill="#f01414" text-anchor="start" >A&#8217;</text>
<text x="150.6" y="98.2" font-size="9" font-weight="normal" fill="#111" text-anchor="start" >1</text>
<text x="114.8" y="134" font-size="9" font-weight="normal" fill="#111" text-anchor="start" >4</text>
<text x="104.3" y="139.6" font-size="9" font-weight="normal" fill="#111" text-anchor="start" >3</text>
<text x="109.6" y="150.2" font-size="9" font-weight="normal" fill="#111" text-anchor="start" >2</text>
<text x="97.6" y="160.2" font-size="9" font-weight="normal" fill="#111" text-anchor="start" >5</text>
<rect x="266.3" y="13.1" width="62.2" height="13.8" fill="#fff" stroke="#000" stroke-width="1"/>
<text x="298.2" y="24.8" font-size="14.6" font-weight="bold" fill="#000" text-anchor="middle" >100 BCE</text>
<rect x="304.7" y="126.8" width="24.4" height="133" fill="#fff"/>
<defs><linearGradient id="cb" x1="0" y1="0" x2="0" y2="1">
<stop offset="0" stop-color="#5a2a08"/>
<stop offset="0.15" stop-color="#9a6a2a"/>
<stop offset="0.3" stop-color="#c6b060"/>
<stop offset="0.42" stop-color="#e8eec0"/>
<stop offset="0.55" stop-color="#8acc80"/>
<stop offset="0.73" stop-color="#166a2a"/>
<stop offset="0.731" stop-color="#00e8f0"/>
<stop offset="0.85" stop-color="#0030f0"/>
<stop offset="1" stop-color="#000040"/>
</linearGradient></defs>
<rect x="307.4" y="128.1" width="10" height="130.3" fill="url(#cb)" stroke="#333" stroke-width="0.3"/>
<text x="318.5" y="145.5" font-size="6.8" font-weight="normal" fill="#222" text-anchor="start" >200</text>
<line x1="317.4" y1="143.1" x2="316.2" y2="143.1" stroke="#222" stroke-width="0.4"/>
<text x="318.5" y="165.8" font-size="6.8" font-weight="normal" fill="#222" text-anchor="start" >150</text>
<line x1="317.4" y1="163.4" x2="316.2" y2="163.4" stroke="#222" stroke-width="0.4"/>
<text x="318.5" y="186.1" font-size="6.8" font-weight="normal" fill="#222" text-anchor="start" >100</text>
<line x1="317.4" y1="183.7" x2="316.2" y2="183.7" stroke="#222" stroke-width="0.4"/>
<text x="318.5" y="206.4" font-size="6.8" font-weight="normal" fill="#222" text-anchor="start" >50</text>
<line x1="317.4" y1="204" x2="316.2" y2="204" stroke="#222" stroke-width="0.4"/>
<text x="318.5" y="226.70000000000002" font-size="6.8" font-weight="normal" fill="#222" text-anchor="start" >0</text>
<line x1="317.4" y1="224.3" x2="316.2" y2="224.3" stroke="#222" stroke-width="0.4"/>
<text x="318.5" y="247.0" font-size="6.8" font-weight="normal" fill="#222" text-anchor="start" >-50</text>
<line x1="317.4" y1="244.6" x2="316.2" y2="244.6" stroke="#222" stroke-width="0.4"/>
<text x="0" y="0" font-size="8.7" font-weight="bold" fill="#fff" text-anchor="start" transform="translate(302.5,250) rotate(-90)">elevation (m a. s. l.)</text>
<rect x="15.5" y="244.5" width="16.5" height="15.5" fill="#fff" stroke="#000" stroke-width="1"/>
<text x="23.6" y="256.6" font-size="16.5" font-weight="bold" fill="#000" text-anchor="middle" >a</text>
<text x="0" y="0" font-size="8.7" font-weight="bold" fill="#fff" text-anchor="start" transform="translate(20,200) rotate(-90)">north (km)</text>
<text x="173" y="262.4" font-size="8.7" font-weight="bold" fill="#fff" text-anchor="start" >east (km)</text>
<text x="27" y="278.5" font-size="9" font-weight="normal" fill="#222" text-anchor="middle" >421</text>
<text x="82.5" y="278.5" font-size="9" font-weight="normal" fill="#222" text-anchor="middle" >422</text>
<text x="138.5" y="278.5" font-size="9" font-weight="normal" fill="#222" text-anchor="middle" >423</text>
<text x="193" y="278.5" font-size="9" font-weight="normal" fill="#222" text-anchor="middle" >424</text>
<text x="248" y="278.5" font-size="9" font-weight="normal" fill="#222" text-anchor="middle" >425</text>
<text x="303" y="278.5" font-size="9" font-weight="normal" fill="#222" text-anchor="middle" >426</text>
<text x="0" y="0" font-size="7.9" font-weight="normal" fill="#222" text-anchor="middle" transform="translate(7.3,42) rotate(-90)">4521</text>
<text x="0" y="0" font-size="7.9" font-weight="normal" fill="#222" text-anchor="middle" transform="translate(7.3,97.5) rotate(-90)">4520</text>
<text x="0" y="0" font-size="7.9" font-weight="normal" fill="#222" text-anchor="middle" transform="translate(7.3,153) rotate(-90)">4519</text>
<text x="0" y="0" font-size="7.9" font-weight="normal" fill="#222" text-anchor="middle" transform="translate(7.3,208) rotate(-90)">4518</text>
<text x="0" y="0" font-size="7.9" font-weight="normal" fill="#222" text-anchor="middle" transform="translate(7.3,263) rotate(-90)">4517</text>
<line x1="366.5" y1="78.8" x2="676.5" y2="78.8" stroke="#2a2aee" stroke-width="1.2"/>
<line x1="366.5" y1="60.1" x2="676.5" y2="60.1" stroke="#2a2aee" stroke-width="1.1" stroke-dasharray="3.2,2.2"/>
<line x1="366.5" y1="67.6" x2="676.5" y2="67.6" stroke="#2a2aee" stroke-width="1.1" stroke-dasharray="3.2,2.2"/>
<text x="459.3" y="52.6" font-size="8.9" font-weight="bold" fill="#000" text-anchor="start" >presumed functional elevations</text>
<line x1="524.2" y1="54.5" x2="522.4" y2="59" stroke="#000" stroke-width="0.8"/>
<path d="M521.2,62.6 L520.3,57.8 L524,59.2 Z" fill="#000"/>
<text x="441" y="87" font-size="8.7" font-weight="normal" fill="#2a2aee" text-anchor="start" >100 BCE sea level</text>
<line x1="525.6" y1="81" x2="525.6" y2="185" stroke="#2222ee" stroke-width="0.9"/>
<path d="M525.6,79.2 l-1.6,4.2 l3.2,0 Z" fill="#2222ee"/>
<path d="M525.6,187 l-1.6,-4.2 l3.2,0 Z" fill="#2222ee"/>
<line x1="534.5" y1="81" x2="534.5" y2="210.5" stroke="#2222ee" stroke-width="0.9"/>
<path d="M534.5,79.2 l-1.6,4.2 l3.2,0 Z" fill="#2222ee"/>
<path d="M534.5,212.5 l-1.6,-4.2 l3.2,0 Z" fill="#2222ee"/>
<text x="0" y="0" font-size="8.5" font-weight="bold" fill="#2222ee" text-anchor="start" transform="translate(522.8,140) rotate(-90)">-6 m</text>
<text x="0" y="0" font-size="8.5" font-weight="bold" fill="#2222ee" text-anchor="start" transform="translate(543.8,140) rotate(-90)">-7 m</text>
<path d="M440.2,141.6 L442.9,146.6 L446.5,154.2 L451.0,162.4 L455.4,157.4 L459.0,156.8 L463.5,153.5 L465.3,155.9 L466.2,164.7 L468.9,160.7 L471.6,159.4 L474.3,162.6 L476.0,167.8 L477.8,164.8 L480.5,167.1 L484.1,172.9 L486.1,180.6 L488.4,183.0 L491.3,186.6 L494.2,190.1 L495.3,190.5 L498.4,186.9 L500.4,188.7 L503.5,186.2 L505.5,184.9 L507.6,186.7 L510.7,190.2 L514.7,190.8 L520.9,188.8 L525.0,187.2 L529.0,187.6 L538.2,190.4 L545.4,188.3 L551.5,185.8 L557.7,184.1 L562.8,182.2 L565.8,178.3 L569.9,176.6 L573.0,179.2 L577.1,181.7 L580.1,181.7 L584.2,179.6 L588.3,172.9 L590.4,167.0 L596.8,156.4 L599.0,156.0 L602.2,157.7 L604.4,153.1 L608.7,144.9 L617.3,137.3 L623.7,129.9 L629.1,119.4 L634.5,117.6 L642.0,115.4 L645.2,112.7 L647.4,117.8 L650.6,126.0 L653.8,119.0 L659.2,107.5" stroke="#ff0000" stroke-width="3.3" fill="none" stroke-dasharray="8.5,5" stroke-linejoin="round"/>
<path d="M440.2,157.6 L442.9,162.8 L446.5,170.7 L451.0,179.4 L455.4,174.7 L459.0,174.5 L463.5,171.6 L465.3,174.2 L466.2,183.0 L468.9,179.3 L471.6,178.2 L474.3,181.6 L476.0,186.9 L477.8,184.1 L480.5,186.7 L484.1,192.8 L486.1,200.7 L488.4,203.2 L491.3,207.1 L494.2,210.9 L495.3,211.3 L498.4,208.1 L500.4,210.1 L503.5,207.8 L505.5,206.7 L507.6,208.6 L510.7,212.5 L514.7,213.3 L520.9,211.9 L525.0,210.7 L529.0,211.4 L538.2,215.0 L545.4,213.6 L551.5,211.6 L557.7,210.5 L562.8,209.0 L565.8,205.3 L569.9,204.0 L573.0,206.9 L577.1,209.8 L580.1,210.0 L584.2,208.3 L588.3,201.9 L590.4,196.2 L596.8,186.2 L599.0,186.0 L602.2,188.0 L604.4,183.5 L608.7,175.8 L617.3,168.9 L623.7,162.0 L629.1,152.0 L634.5,150.7 L642.0,149.2 L645.2,146.8 L647.4,152.1 L650.6,160.5 L653.8,153.8 L659.2,142.8" stroke="#ff0000" stroke-width="3.3" fill="none" stroke-dasharray="8.5,5" stroke-linejoin="round"/>
<path d="M440.2,171.6 L442.9,177.0 L446.5,185.1 L451.0,194.0 L455.4,189.6 L459.0,189.6 L463.5,186.9 L465.3,189.6 L466.2,198.5 L468.9,194.9 L471.6,194.0 L474.3,197.6 L476.0,203.0 L477.8,200.3 L480.5,203.0 L484.1,209.3 L486.1,217.3 L488.4,220.0 L491.3,224.0 L494.2,228.0 L495.3,228.5 L498.4,225.4 L500.4,227.5 L503.5,225.4 L505.5,224.4 L507.6,226.5 L510.7,230.5 L514.7,231.6 L520.9,230.5 L525.0,229.5 L529.0,230.5 L538.2,234.6 L545.4,233.6 L551.5,232.0 L557.7,231.2 L562.8,230.0 L565.8,226.5 L569.9,225.4 L573.0,228.5 L577.1,231.6 L580.1,232.0 L584.2,230.5 L588.3,224.4 L590.4,218.8 L596.8,209.1 L599.0,209.1 L602.2,211.2 L604.4,206.9 L608.7,199.4 L617.3,193.0 L623.7,186.5 L629.1,176.8 L634.5,175.8 L642.0,174.7 L645.2,172.5 L647.4,177.9 L650.6,186.5 L653.8,180.0 L659.2,169.3" stroke="#000" stroke-width="3.4" fill="none" stroke-linejoin="miter" stroke-miterlimit="3"/>
<line x1="404.4" y1="127.80000000000001" x2="404.4" y2="163.0" stroke="#ff0000" stroke-width="1"/>
<line x1="400.9" y1="127.80000000000001" x2="407.9" y2="127.80000000000001" stroke="#ff0000" stroke-width="1"/>
<line x1="400.9" y1="163.0" x2="407.9" y2="163.0" stroke="#ff0000" stroke-width="1"/>
<line x1="404.4" y1="141.1" x2="404.4" y2="176.29999999999998" stroke="#ff0000" stroke-width="1"/>
<line x1="400.9" y1="141.1" x2="407.9" y2="141.1" stroke="#ff0000" stroke-width="1"/>
<line x1="400.9" y1="176.29999999999998" x2="407.9" y2="176.29999999999998" stroke="#ff0000" stroke-width="1"/>
<ellipse cx="404.4" cy="145.4" rx="4.3" ry="4.0" fill="none" stroke="#ff0000" stroke-width="3"/>
<ellipse cx="404.4" cy="158.7" rx="4.3" ry="4.0" fill="none" stroke="#ff0000" stroke-width="3"/>
<ellipse cx="404.4" cy="170.9" rx="4.4" ry="4.0" fill="none" stroke="#000" stroke-width="3"/>
<line x1="430.1" y1="122.5" x2="430.1" y2="157.7" stroke="#ff0000" stroke-width="1"/>
<line x1="426.6" y1="122.5" x2="433.6" y2="122.5" stroke="#ff0000" stroke-width="1"/>
<line x1="426.6" y1="157.7" x2="433.6" y2="157.7" stroke="#ff0000" stroke-width="1"/>
<line x1="430.1" y1="137.6" x2="430.1" y2="172.79999999999998" stroke="#ff0000" stroke-width="1"/>
<line x1="426.6" y1="137.6" x2="433.6" y2="137.6" stroke="#ff0000" stroke-width="1"/>
<line x1="426.6" y1="172.79999999999998" x2="433.6" y2="172.79999999999998" stroke="#ff0000" stroke-width="1"/>
<ellipse cx="430.1" cy="140.1" rx="4.3" ry="4.0" fill="none" stroke="#ff0000" stroke-width="3"/>
<ellipse cx="430.1" cy="155.2" rx="4.3" ry="4.0" fill="none" stroke="#ff0000" stroke-width="3"/>
<ellipse cx="430.1" cy="169" rx="4.4" ry="4.0" fill="none" stroke="#000" stroke-width="3"/>
<line x1="451.2" y1="126.9" x2="451.2" y2="162.1" stroke="#ff0000" stroke-width="1"/>
<line x1="447.7" y1="126.9" x2="454.7" y2="126.9" stroke="#ff0000" stroke-width="1"/>
<line x1="447.7" y1="162.1" x2="454.7" y2="162.1" stroke="#ff0000" stroke-width="1"/>
<line x1="451.2" y1="144.0" x2="451.2" y2="179.2" stroke="#ff0000" stroke-width="1"/>
<line x1="447.7" y1="144.0" x2="454.7" y2="144.0" stroke="#ff0000" stroke-width="1"/>
<line x1="447.7" y1="179.2" x2="454.7" y2="179.2" stroke="#ff0000" stroke-width="1"/>
<ellipse cx="451.2" cy="144.5" rx="4.3" ry="4.0" fill="none" stroke="#ff0000" stroke-width="3"/>
<ellipse cx="451.2" cy="161.6" rx="4.3" ry="4.0" fill="none" stroke="#ff0000" stroke-width="3"/>
<ellipse cx="451.2" cy="177" rx="4.4" ry="4.0" fill="none" stroke="#000" stroke-width="3"/>
<line x1="466.8" y1="130.9" x2="466.8" y2="166.1" stroke="#ff0000" stroke-width="1"/>
<line x1="463.3" y1="130.9" x2="470.3" y2="130.9" stroke="#ff0000" stroke-width="1"/>
<line x1="463.3" y1="166.1" x2="470.3" y2="166.1" stroke="#ff0000" stroke-width="1"/>
<line x1="466.8" y1="148.9" x2="466.8" y2="184.1" stroke="#ff0000" stroke-width="1"/>
<line x1="463.3" y1="148.9" x2="470.3" y2="148.9" stroke="#ff0000" stroke-width="1"/>
<line x1="463.3" y1="184.1" x2="470.3" y2="184.1" stroke="#ff0000" stroke-width="1"/>
<ellipse cx="466.8" cy="148.5" rx="4.3" ry="4.0" fill="none" stroke="#ff0000" stroke-width="3"/>
<ellipse cx="466.8" cy="166.5" rx="4.3" ry="4.0" fill="none" stroke="#ff0000" stroke-width="3"/>
<ellipse cx="466.8" cy="181.9" rx="4.4" ry="4.0" fill="none" stroke="#000" stroke-width="3"/>
<line x1="644.2" y1="92.4" x2="644.2" y2="127.6" stroke="#ff0000" stroke-width="1"/>
<line x1="640.7" y1="92.4" x2="647.7" y2="92.4" stroke="#ff0000" stroke-width="1"/>
<line x1="640.7" y1="127.6" x2="647.7" y2="127.6" stroke="#ff0000" stroke-width="1"/>
<line x1="644.2" y1="126.0" x2="644.2" y2="161.2" stroke="#ff0000" stroke-width="1"/>
<line x1="640.7" y1="126.0" x2="647.7" y2="126.0" stroke="#ff0000" stroke-width="1"/>
<line x1="640.7" y1="161.2" x2="647.7" y2="161.2" stroke="#ff0000" stroke-width="1"/>
<ellipse cx="644.2" cy="110" rx="4.3" ry="4.0" fill="none" stroke="#ff0000" stroke-width="3"/>
<ellipse cx="644.2" cy="143.6" rx="4.3" ry="4.0" fill="none" stroke="#ff0000" stroke-width="3"/>
<ellipse cx="644.2" cy="170.8" rx="4.4" ry="4.0" fill="none" stroke="#000" stroke-width="3"/>
<text x="397.7" y="184.2" font-size="10" font-weight="normal" fill="#111" text-anchor="start" >5</text>
<text x="422.6" y="184.2" font-size="10" font-weight="normal" fill="#111" text-anchor="start" >2</text>
<text x="437.2" y="188.7" font-size="10" font-weight="normal" fill="#111" text-anchor="start" >3</text>
<text x="458.1" y="200.3" font-size="10" font-weight="normal" fill="#111" text-anchor="start" >4</text>
<text x="632.3" y="169.4" font-size="10" font-weight="normal" fill="#111" text-anchor="start" >1</text>
<text x="544.2" y="119" font-size="10.4" font-weight="bold" fill="#000" text-anchor="start" >100 BCE profile</text>
<path d="M578,139 L583.5,123 L589,141" stroke="#000" stroke-width="0.7" fill="none"/>
<line x1="578" y1="139" x2="572.5" y2="172" stroke="#000" stroke-width="0.7"/>
<line x1="589" y1="141" x2="599.5" y2="177" stroke="#000" stroke-width="0.7"/>
<path d="M572,176 l-1,-4 l2.4,0.4 Z" fill="#000"/>
<path d="M600.3,180.5 l-2.2,-3.6 l2.4,-0.7 Z" fill="#000"/>
<text x="592.6" y="242" font-size="10.4" font-weight="bold" fill="#000" text-anchor="start" >2013 CE</text>
<text x="592.6" y="251.6" font-size="10.4" font-weight="bold" fill="#000" text-anchor="start" >profile</text>
<line x1="603.2" y1="216" x2="608.8" y2="231.6" stroke="#000" stroke-width="0.7"/>
<path d="M602.6,213.2 l-0.6,4 l2.3,-0.8 Z" fill="#000"/>
<text x="511.6" y="264" font-size="9.0" font-weight="bold" fill="#000" text-anchor="start" >East (km)</text>
<text x="0" y="0" font-size="11.6" font-weight="bold" fill="#000" text-anchor="start" transform="translate(378.8,190.3) rotate(-90)">elevation (m a. s. l.)</text>
<line x1="366.5" y1="3.9" x2="676.5" y2="3.9" stroke="#808080" stroke-width="1"/>
<line x1="676.5" y1="3.9" x2="676.5" y2="266.0" stroke="#555" stroke-width="1"/>
<line x1="366.5" y1="3.9" x2="366.5" y2="266.0" stroke="#555" stroke-width="1"/>
<line x1="366.5" y1="266.0" x2="676.5" y2="266.0" stroke="#444" stroke-width="1.1"/>
<line x1="366.5" y1="3.9" x2="369.5" y2="3.9" stroke="#333" stroke-width="0.8"/>
<line x1="676.5" y1="3.9" x2="673.5" y2="3.9" stroke="#333" stroke-width="0.8"/>
<text x="356.8" y="6.8" font-size="9.8" font-weight="normal" fill="#222" text-anchor="end" >4</text>
<line x1="366.5" y1="41.3" x2="369.5" y2="41.3" stroke="#333" stroke-width="0.8"/>
<line x1="676.5" y1="41.3" x2="673.5" y2="41.3" stroke="#333" stroke-width="0.8"/>
<text x="356.8" y="44.24285714285714" font-size="9.8" font-weight="normal" fill="#222" text-anchor="end" >2</text>
<line x1="366.5" y1="78.8" x2="369.5" y2="78.8" stroke="#333" stroke-width="0.8"/>
<line x1="676.5" y1="78.8" x2="673.5" y2="78.8" stroke="#333" stroke-width="0.8"/>
<text x="356.8" y="81.6857142857143" font-size="9.8" font-weight="normal" fill="#222" text-anchor="end" >0</text>
<line x1="366.5" y1="116.2" x2="369.5" y2="116.2" stroke="#333" stroke-width="0.8"/>
<line x1="676.5" y1="116.2" x2="673.5" y2="116.2" stroke="#333" stroke-width="0.8"/>
<text x="356.8" y="119.12857142857145" font-size="9.8" font-weight="normal" fill="#222" text-anchor="end" >-2</text>
<line x1="366.5" y1="153.7" x2="369.5" y2="153.7" stroke="#333" stroke-width="0.8"/>
<line x1="676.5" y1="153.7" x2="673.5" y2="153.7" stroke="#333" stroke-width="0.8"/>
<text x="356.8" y="156.57142857142858" font-size="9.8" font-weight="normal" fill="#222" text-anchor="end" >-4</text>
<line x1="366.5" y1="191.1" x2="369.5" y2="191.1" stroke="#333" stroke-width="0.8"/>
<line x1="676.5" y1="191.1" x2="673.5" y2="191.1" stroke="#333" stroke-width="0.8"/>
<text x="356.8" y="194.01428571428573" font-size="9.8" font-weight="normal" fill="#222" text-anchor="end" >-6</text>
<line x1="366.5" y1="228.6" x2="369.5" y2="228.6" stroke="#333" stroke-width="0.8"/>
<line x1="676.5" y1="228.6" x2="673.5" y2="228.6" stroke="#333" stroke-width="0.8"/>
<text x="356.8" y="231.45714285714288" font-size="9.8" font-weight="normal" fill="#222" text-anchor="end" >-8</text>
<line x1="366.5" y1="266.0" x2="369.5" y2="266.0" stroke="#333" stroke-width="0.8"/>
<line x1="676.5" y1="266.0" x2="673.5" y2="266.0" stroke="#333" stroke-width="0.8"/>
<text x="356.8" y="268.9" font-size="9.8" font-weight="normal" fill="#222" text-anchor="end" >-10</text>
<line x1="366.5" y1="266.0" x2="366.5" y2="263.0" stroke="#333" stroke-width="0.8"/>
<text x="366.5" y="277.7" font-size="9.8" font-weight="normal" fill="#222" text-anchor="middle" >422</text>
<line x1="469.8" y1="266.0" x2="469.8" y2="263.0" stroke="#333" stroke-width="0.8"/>
<text x="469.8333333333333" y="277.7" font-size="9.8" font-weight="normal" fill="#222" text-anchor="middle" >422.5</text>
<line x1="573.2" y1="266.0" x2="573.2" y2="263.0" stroke="#333" stroke-width="0.8"/>
<text x="573.1666666666666" y="277.7" font-size="9.8" font-weight="normal" fill="#222" text-anchor="middle" >423</text>
<line x1="676.5" y1="266.0" x2="676.5" y2="263.0" stroke="#333" stroke-width="0.8"/>
<text x="676.5" y="277.7" font-size="9.8" font-weight="normal" fill="#222" text-anchor="middle" >423.5</text>
<rect x="371" y="243.6" width="16.5" height="16.5" fill="#fff" stroke="#000" stroke-width="1"/>
<text x="379.3" y="258.2" font-size="16.5" font-weight="bold" fill="#000" text-anchor="middle" >b</text>
</svg>
</body></html>
